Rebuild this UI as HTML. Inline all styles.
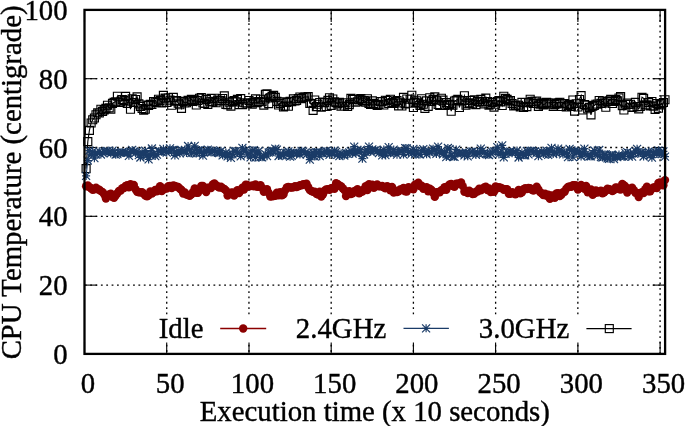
<!DOCTYPE html><html><head><meta charset="utf-8"><style>html,body{margin:0;padding:0;background:#fff}svg{display:block;filter:blur(0.45px)}text{font-family:"Liberation Serif",serif;font-size:28.8px;fill:#000;stroke:#000;stroke-width:0.4px}</style></head><body>
<svg width="685" height="426" viewBox="0 0 685 426">
<rect width="685" height="426" fill="#fff"/>
<g stroke="#000" stroke-width="1.3" stroke-dasharray="1.8 3.56"><line x1="665.10" y1="285.10" x2="84.50" y2="285.10" stroke-dashoffset="0.4"/><line x1="665.10" y1="216.30" x2="84.50" y2="216.30" stroke-dashoffset="0.4"/><line x1="665.10" y1="147.50" x2="84.50" y2="147.50" stroke-dashoffset="0.4"/><line x1="665.10" y1="78.70" x2="84.50" y2="78.70" stroke-dashoffset="0.4"/><line x1="166.73" y1="353.90" x2="166.73" y2="9.90" stroke-dashoffset="3.36"/><line x1="248.95" y1="353.90" x2="248.95" y2="9.90" stroke-dashoffset="3.36"/><line x1="331.18" y1="353.90" x2="331.18" y2="9.90" stroke-dashoffset="3.36"/><line x1="413.40" y1="353.90" x2="413.40" y2="9.90" stroke-dashoffset="3.36"/><line x1="495.62" y1="353.90" x2="495.62" y2="9.90" stroke-dashoffset="3.36"/><line x1="577.85" y1="353.90" x2="577.85" y2="9.90" stroke-dashoffset="3.36"/><line x1="660.08" y1="353.90" x2="660.08" y2="9.90" stroke-dashoffset="0.2"/></g>
<g stroke="#000" stroke-width="1.1"><line x1="84.5" y1="353.9" x2="97.0" y2="353.9"/><line x1="665.1" y1="353.9" x2="652.6" y2="353.9"/><line x1="84.5" y1="285.1" x2="97.0" y2="285.1"/><line x1="665.1" y1="285.1" x2="652.6" y2="285.1"/><line x1="84.5" y1="216.3" x2="97.0" y2="216.3"/><line x1="665.1" y1="216.3" x2="652.6" y2="216.3"/><line x1="84.5" y1="147.5" x2="97.0" y2="147.5"/><line x1="665.1" y1="147.5" x2="652.6" y2="147.5"/><line x1="84.5" y1="78.7" x2="97.0" y2="78.7"/><line x1="665.1" y1="78.7" x2="652.6" y2="78.7"/><line x1="84.5" y1="9.9" x2="97.0" y2="9.9"/><line x1="665.1" y1="9.9" x2="652.6" y2="9.9"/><line x1="84.5" y1="353.9" x2="84.5" y2="341.9"/><line x1="84.5" y1="9.9" x2="84.5" y2="21.9"/><line x1="166.7" y1="353.9" x2="166.7" y2="341.9"/><line x1="166.7" y1="9.9" x2="166.7" y2="21.9"/><line x1="249.0" y1="353.9" x2="249.0" y2="341.9"/><line x1="249.0" y1="9.9" x2="249.0" y2="21.9"/><line x1="331.2" y1="353.9" x2="331.2" y2="341.9"/><line x1="331.2" y1="9.9" x2="331.2" y2="21.9"/><line x1="413.4" y1="353.9" x2="413.4" y2="341.9"/><line x1="413.4" y1="9.9" x2="413.4" y2="21.9"/><line x1="495.6" y1="353.9" x2="495.6" y2="341.9"/><line x1="495.6" y1="9.9" x2="495.6" y2="21.9"/><line x1="577.9" y1="353.9" x2="577.9" y2="341.9"/><line x1="577.9" y1="9.9" x2="577.9" y2="21.9"/><line x1="660.1" y1="353.9" x2="660.1" y2="341.9"/><line x1="660.1" y1="9.9" x2="660.1" y2="21.9"/></g>
<g>
<defs><clipPath id="c"><rect x="84.5" y="9.9" width="580.6" height="344.0"/></clipPath></defs>
<polyline fill="none" stroke="#000" stroke-width="1.1" points="86.1,168.6 87.8,141.6 89.4,130.4 91.1,123.0 92.7,119.7 94.4,118.0 96.0,114.7 97.7,112.9 99.3,113.0 100.9,109.2 102.6,111.4 104.2,109.9 105.9,108.3 107.5,105.2 109.2,107.8 110.8,109.2 112.5,103.4 114.1,102.2 115.7,101.8 117.4,96.2 119.0,102.3 120.7,101.9 122.3,99.5 124.0,100.3 125.6,96.3 127.3,103.3 128.9,101.0 130.5,109.2 132.2,98.8 133.8,102.5 135.5,99.5 137.1,96.8 138.8,103.8 140.4,106.3 142.1,108.5 143.7,110.1 145.3,109.2 147.0,105.0 148.6,105.4 150.3,104.3 151.9,104.5 153.6,101.5 155.2,101.8 156.9,102.3 158.5,99.2 160.1,100.6 161.8,102.9 163.4,95.3 165.1,98.1 166.7,102.3 168.4,97.7 170.0,100.1 171.7,105.2 173.3,97.3 174.9,101.2 176.6,100.6 178.2,103.2 179.9,104.7 181.5,108.4 183.2,101.4 184.8,102.9 186.5,102.7 188.1,100.4 189.7,101.0 191.4,99.2 193.0,101.3 194.7,99.9 196.3,105.0 198.0,100.5 199.6,98.2 201.3,97.5 202.9,103.0 204.5,103.3 206.2,99.4 207.8,104.3 209.5,101.2 211.1,98.3 212.8,101.9 214.4,98.2 216.1,102.7 217.7,100.1 219.3,100.8 221.0,100.6 222.6,98.5 224.3,95.9 225.9,104.4 227.6,104.7 229.2,102.2 230.9,106.1 232.5,101.6 234.1,100.5 235.8,101.9 237.4,99.3 239.1,104.6 240.7,98.6 242.4,104.6 244.0,102.7 245.7,102.9 247.3,103.2 249.0,100.5 250.6,102.9 252.2,104.2 253.9,101.7 255.5,98.9 257.2,102.7 258.8,101.6 260.5,99.2 262.1,101.7 263.8,105.1 265.4,94.4 267.0,93.9 268.7,103.6 270.3,97.8 272.0,96.3 273.6,95.4 275.3,97.3 276.9,101.3 278.6,105.0 280.2,103.4 281.8,101.7 283.5,107.0 285.1,106.1 286.8,102.4 288.4,106.2 290.1,101.3 291.7,101.6 293.4,98.8 295.0,101.0 296.6,100.5 298.3,98.5 299.9,97.0 301.6,98.6 303.2,97.5 304.9,96.8 306.5,97.0 308.2,96.6 309.8,103.3 311.4,103.5 313.1,110.3 314.7,100.0 316.4,106.6 318.0,104.2 319.7,102.5 321.3,107.1 323.0,102.0 324.6,102.6 326.2,106.5 327.9,100.4 329.5,97.7 331.2,105.4 332.8,99.0 334.5,101.8 336.1,102.6 337.8,104.0 339.4,102.2 341.0,106.1 342.7,103.0 344.3,106.0 346.0,102.8 347.6,106.5 349.3,104.6 350.9,98.3 352.6,99.3 354.2,99.5 355.8,102.2 357.5,101.7 359.1,99.8 360.8,98.6 362.4,100.5 364.1,100.6 365.7,102.1 367.4,98.7 369.0,103.5 370.6,104.3 372.3,100.9 373.9,103.4 375.6,104.5 377.2,105.3 378.9,104.2 380.5,101.5 382.2,101.6 383.8,105.0 385.4,100.2 387.1,100.5 388.7,103.5 390.4,99.2 392.0,102.5 393.7,103.4 395.3,101.3 397.0,100.5 398.6,105.9 400.2,102.9 401.9,106.0 403.5,97.3 405.2,104.0 406.8,99.0 408.5,103.2 410.1,99.1 411.8,95.2 413.4,107.5 415.0,102.4 416.7,100.7 418.3,103.1 420.0,105.4 421.6,98.7 423.3,104.2 424.9,108.3 426.6,100.9 428.2,106.3 429.8,97.7 431.5,101.4 433.1,99.4 434.8,96.8 436.4,100.1 438.1,104.5 439.7,105.5 441.4,98.2 443.0,100.1 444.6,105.5 446.3,102.6 447.9,104.5 449.6,104.2 451.2,111.2 452.9,105.2 454.5,101.0 456.2,100.3 457.8,99.2 459.4,107.5 461.1,100.9 462.7,100.5 464.4,95.7 466.0,105.2 467.7,103.7 469.3,102.8 471.0,100.5 472.6,103.8 474.2,99.7 475.9,104.6 477.5,101.3 479.2,102.2 480.8,99.4 482.5,101.2 484.1,103.9 485.8,98.1 487.4,101.6 489.0,105.2 490.7,104.2 492.3,102.3 494.0,107.1 495.6,104.2 497.3,101.6 498.9,100.6 500.6,101.8 502.2,105.5 503.8,96.2 505.5,98.3 507.1,99.3 508.8,100.8 510.4,100.5 512.1,103.5 513.7,105.9 515.4,105.4 517.0,105.1 518.6,105.2 520.3,106.8 521.9,102.3 523.6,107.4 525.2,102.4 526.9,106.6 528.5,102.6 530.2,99.2 531.8,101.4 533.4,103.3 535.1,101.1 536.7,101.0 538.4,106.3 540.0,104.1 541.7,102.8 543.3,105.0 545.0,103.9 546.6,102.3 548.2,102.7 549.9,103.0 551.5,104.2 553.2,106.4 554.8,104.7 556.5,103.8 558.1,102.8 559.8,102.2 561.4,106.5 563.0,103.5 564.7,103.6 566.3,107.0 568.0,105.3 569.6,104.4 571.3,106.3 572.9,100.0 574.6,111.1 576.2,103.7 577.9,107.0 579.5,99.5 581.1,95.6 582.8,110.0 584.4,104.6 586.1,105.2 587.7,108.7 589.4,107.4 591.0,114.9 592.7,106.1 594.3,105.5 595.9,104.2 597.6,104.1 599.2,100.5 600.9,103.3 602.5,101.2 604.2,102.9 605.8,107.2 607.5,101.3 609.1,100.7 610.7,99.3 612.4,103.5 614.0,101.3 615.7,99.6 617.3,100.8 619.0,98.0 620.6,96.6 622.3,105.6 623.9,110.0 625.5,104.2 627.2,103.0 628.8,104.4 630.5,104.2 632.1,107.4 633.8,107.0 635.4,102.3 637.1,106.6 638.7,108.8 640.3,106.5 642.0,97.2 643.6,98.3 645.3,104.8 646.9,104.8 648.6,102.6 650.2,105.9 651.9,101.5 653.5,106.1 655.1,109.4 656.8,103.6 658.4,108.2 660.1,104.8 661.7,103.5 663.4,102.5 665.0,99.7"/>
<path fill="none" stroke="#000" stroke-width="1.15" d="M82.1 164.6h8v8h-8zM83.8 137.6h8v8h-8zM85.4 126.4h8v8h-8zM87.1 119.0h8v8h-8zM88.7 115.7h8v8h-8zM90.4 114.0h8v8h-8zM92.0 110.7h8v8h-8zM93.7 108.9h8v8h-8zM95.3 109.0h8v8h-8zM96.9 105.2h8v8h-8zM98.6 107.4h8v8h-8zM100.2 105.9h8v8h-8zM101.9 104.3h8v8h-8zM103.5 101.2h8v8h-8zM105.2 103.8h8v8h-8zM106.8 105.2h8v8h-8zM108.5 99.4h8v8h-8zM110.1 98.2h8v8h-8zM111.7 97.8h8v8h-8zM113.4 92.2h8v8h-8zM115.0 98.3h8v8h-8zM116.7 97.9h8v8h-8zM118.3 95.5h8v8h-8zM120.0 96.3h8v8h-8zM121.6 92.3h8v8h-8zM123.3 99.3h8v8h-8zM124.9 97.0h8v8h-8zM126.5 105.2h8v8h-8zM128.2 94.8h8v8h-8zM129.8 98.5h8v8h-8zM131.5 95.5h8v8h-8zM133.1 92.8h8v8h-8zM134.8 99.8h8v8h-8zM136.4 102.3h8v8h-8zM138.1 104.5h8v8h-8zM139.7 106.1h8v8h-8zM141.3 105.2h8v8h-8zM143.0 101.0h8v8h-8zM144.6 101.4h8v8h-8zM146.3 100.3h8v8h-8zM147.9 100.5h8v8h-8zM149.6 97.5h8v8h-8zM151.2 97.8h8v8h-8zM152.9 98.3h8v8h-8zM154.5 95.2h8v8h-8zM156.1 96.6h8v8h-8zM157.8 98.9h8v8h-8zM159.4 91.3h8v8h-8zM161.1 94.1h8v8h-8zM162.7 98.3h8v8h-8zM164.4 93.7h8v8h-8zM166.0 96.1h8v8h-8zM167.7 101.2h8v8h-8zM169.3 93.3h8v8h-8zM170.9 97.2h8v8h-8zM172.6 96.6h8v8h-8zM174.2 99.2h8v8h-8zM175.9 100.7h8v8h-8zM177.5 104.4h8v8h-8zM179.2 97.4h8v8h-8zM180.8 98.9h8v8h-8zM182.5 98.7h8v8h-8zM184.1 96.4h8v8h-8zM185.7 97.0h8v8h-8zM187.4 95.2h8v8h-8zM189.0 97.3h8v8h-8zM190.7 95.9h8v8h-8zM192.3 101.0h8v8h-8zM194.0 96.5h8v8h-8zM195.6 94.2h8v8h-8zM197.3 93.5h8v8h-8zM198.9 99.0h8v8h-8zM200.5 99.3h8v8h-8zM202.2 95.4h8v8h-8zM203.8 100.3h8v8h-8zM205.5 97.2h8v8h-8zM207.1 94.3h8v8h-8zM208.8 97.9h8v8h-8zM210.4 94.2h8v8h-8zM212.1 98.7h8v8h-8zM213.7 96.1h8v8h-8zM215.3 96.8h8v8h-8zM217.0 96.6h8v8h-8zM218.6 94.5h8v8h-8zM220.3 91.9h8v8h-8zM221.9 100.4h8v8h-8zM223.6 100.7h8v8h-8zM225.2 98.2h8v8h-8zM226.9 102.1h8v8h-8zM228.5 97.6h8v8h-8zM230.1 96.5h8v8h-8zM231.8 97.9h8v8h-8zM233.4 95.3h8v8h-8zM235.1 100.6h8v8h-8zM236.7 94.6h8v8h-8zM238.4 100.6h8v8h-8zM240.0 98.7h8v8h-8zM241.7 98.9h8v8h-8zM243.3 99.2h8v8h-8zM245.0 96.5h8v8h-8zM246.6 98.9h8v8h-8zM248.2 100.2h8v8h-8zM249.9 97.7h8v8h-8zM251.5 94.9h8v8h-8zM253.2 98.7h8v8h-8zM254.8 97.6h8v8h-8zM256.5 95.2h8v8h-8zM258.1 97.7h8v8h-8zM259.8 101.1h8v8h-8zM261.4 90.4h8v8h-8zM263.0 89.9h8v8h-8zM264.7 99.6h8v8h-8zM266.3 93.8h8v8h-8zM268.0 92.3h8v8h-8zM269.6 91.4h8v8h-8zM271.3 93.3h8v8h-8zM272.9 97.3h8v8h-8zM274.6 101.0h8v8h-8zM276.2 99.4h8v8h-8zM277.8 97.7h8v8h-8zM279.5 103.0h8v8h-8zM281.1 102.1h8v8h-8zM282.8 98.4h8v8h-8zM284.4 102.2h8v8h-8zM286.1 97.3h8v8h-8zM287.7 97.6h8v8h-8zM289.4 94.8h8v8h-8zM291.0 97.0h8v8h-8zM292.6 96.5h8v8h-8zM294.3 94.5h8v8h-8zM295.9 93.0h8v8h-8zM297.6 94.6h8v8h-8zM299.2 93.5h8v8h-8zM300.9 92.8h8v8h-8zM302.5 93.0h8v8h-8zM304.2 92.6h8v8h-8zM305.8 99.3h8v8h-8zM307.4 99.5h8v8h-8zM309.1 106.3h8v8h-8zM310.7 96.0h8v8h-8zM312.4 102.6h8v8h-8zM314.0 100.2h8v8h-8zM315.7 98.5h8v8h-8zM317.3 103.1h8v8h-8zM319.0 98.0h8v8h-8zM320.6 98.6h8v8h-8zM322.2 102.5h8v8h-8zM323.9 96.4h8v8h-8zM325.5 93.7h8v8h-8zM327.2 101.4h8v8h-8zM328.8 95.0h8v8h-8zM330.5 97.8h8v8h-8zM332.1 98.6h8v8h-8zM333.8 100.0h8v8h-8zM335.4 98.2h8v8h-8zM337.0 102.1h8v8h-8zM338.7 99.0h8v8h-8zM340.3 102.0h8v8h-8zM342.0 98.8h8v8h-8zM343.6 102.5h8v8h-8zM345.3 100.6h8v8h-8zM346.9 94.3h8v8h-8zM348.6 95.3h8v8h-8zM350.2 95.5h8v8h-8zM351.8 98.2h8v8h-8zM353.5 97.7h8v8h-8zM355.1 95.8h8v8h-8zM356.8 94.6h8v8h-8zM358.4 96.5h8v8h-8zM360.1 96.6h8v8h-8zM361.7 98.1h8v8h-8zM363.4 94.7h8v8h-8zM365.0 99.5h8v8h-8zM366.6 100.3h8v8h-8zM368.3 96.9h8v8h-8zM369.9 99.4h8v8h-8zM371.6 100.5h8v8h-8zM373.2 101.3h8v8h-8zM374.9 100.2h8v8h-8zM376.5 97.5h8v8h-8zM378.2 97.6h8v8h-8zM379.8 101.0h8v8h-8zM381.4 96.2h8v8h-8zM383.1 96.5h8v8h-8zM384.7 99.5h8v8h-8zM386.4 95.2h8v8h-8zM388.0 98.5h8v8h-8zM389.7 99.4h8v8h-8zM391.3 97.3h8v8h-8zM393.0 96.5h8v8h-8zM394.6 101.9h8v8h-8zM396.2 98.9h8v8h-8zM397.9 102.0h8v8h-8zM399.5 93.3h8v8h-8zM401.2 100.0h8v8h-8zM402.8 95.0h8v8h-8zM404.5 99.2h8v8h-8zM406.1 95.1h8v8h-8zM407.8 91.2h8v8h-8zM409.4 103.5h8v8h-8zM411.0 98.4h8v8h-8zM412.7 96.7h8v8h-8zM414.3 99.1h8v8h-8zM416.0 101.4h8v8h-8zM417.6 94.7h8v8h-8zM419.3 100.2h8v8h-8zM420.9 104.3h8v8h-8zM422.6 96.9h8v8h-8zM424.2 102.3h8v8h-8zM425.8 93.7h8v8h-8zM427.5 97.4h8v8h-8zM429.1 95.4h8v8h-8zM430.8 92.8h8v8h-8zM432.4 96.1h8v8h-8zM434.1 100.5h8v8h-8zM435.7 101.5h8v8h-8zM437.4 94.2h8v8h-8zM439.0 96.1h8v8h-8zM440.6 101.5h8v8h-8zM442.3 98.6h8v8h-8zM443.9 100.5h8v8h-8zM445.6 100.2h8v8h-8zM447.2 107.2h8v8h-8zM448.9 101.2h8v8h-8zM450.5 97.0h8v8h-8zM452.2 96.3h8v8h-8zM453.8 95.2h8v8h-8zM455.4 103.5h8v8h-8zM457.1 96.9h8v8h-8zM458.7 96.5h8v8h-8zM460.4 91.7h8v8h-8zM462.0 101.2h8v8h-8zM463.7 99.7h8v8h-8zM465.3 98.8h8v8h-8zM467.0 96.5h8v8h-8zM468.6 99.8h8v8h-8zM470.2 95.7h8v8h-8zM471.9 100.6h8v8h-8zM473.5 97.3h8v8h-8zM475.2 98.2h8v8h-8zM476.8 95.4h8v8h-8zM478.5 97.2h8v8h-8zM480.1 99.9h8v8h-8zM481.8 94.1h8v8h-8zM483.4 97.6h8v8h-8zM485.0 101.2h8v8h-8zM486.7 100.2h8v8h-8zM488.3 98.3h8v8h-8zM490.0 103.1h8v8h-8zM491.6 100.2h8v8h-8zM493.3 97.6h8v8h-8zM494.9 96.6h8v8h-8zM496.6 97.8h8v8h-8zM498.2 101.5h8v8h-8zM499.8 92.2h8v8h-8zM501.5 94.3h8v8h-8zM503.1 95.3h8v8h-8zM504.8 96.8h8v8h-8zM506.4 96.5h8v8h-8zM508.1 99.5h8v8h-8zM509.7 101.9h8v8h-8zM511.4 101.4h8v8h-8zM513.0 101.1h8v8h-8zM514.6 101.2h8v8h-8zM516.3 102.8h8v8h-8zM517.9 98.3h8v8h-8zM519.6 103.4h8v8h-8zM521.2 98.4h8v8h-8zM522.9 102.6h8v8h-8zM524.5 98.6h8v8h-8zM526.2 95.2h8v8h-8zM527.8 97.4h8v8h-8zM529.4 99.3h8v8h-8zM531.1 97.1h8v8h-8zM532.7 97.0h8v8h-8zM534.4 102.3h8v8h-8zM536.0 100.1h8v8h-8zM537.7 98.8h8v8h-8zM539.3 101.0h8v8h-8zM541.0 99.9h8v8h-8zM542.6 98.3h8v8h-8zM544.2 98.7h8v8h-8zM545.9 99.0h8v8h-8zM547.5 100.2h8v8h-8zM549.2 102.4h8v8h-8zM550.8 100.7h8v8h-8zM552.5 99.8h8v8h-8zM554.1 98.8h8v8h-8zM555.8 98.2h8v8h-8zM557.4 102.5h8v8h-8zM559.0 99.5h8v8h-8zM560.7 99.6h8v8h-8zM562.3 103.0h8v8h-8zM564.0 101.3h8v8h-8zM565.6 100.4h8v8h-8zM567.3 102.3h8v8h-8zM568.9 96.0h8v8h-8zM570.6 107.1h8v8h-8zM572.2 99.7h8v8h-8zM573.9 103.0h8v8h-8zM575.5 95.5h8v8h-8zM577.1 91.6h8v8h-8zM578.8 106.0h8v8h-8zM580.4 100.6h8v8h-8zM582.1 101.2h8v8h-8zM583.7 104.7h8v8h-8zM585.4 103.4h8v8h-8zM587.0 110.9h8v8h-8zM588.7 102.1h8v8h-8zM590.3 101.5h8v8h-8zM591.9 100.2h8v8h-8zM593.6 100.1h8v8h-8zM595.2 96.5h8v8h-8zM596.9 99.3h8v8h-8zM598.5 97.2h8v8h-8zM600.2 98.9h8v8h-8zM601.8 103.2h8v8h-8zM603.5 97.3h8v8h-8zM605.1 96.7h8v8h-8zM606.7 95.3h8v8h-8zM608.4 99.5h8v8h-8zM610.0 97.3h8v8h-8zM611.7 95.6h8v8h-8zM613.3 96.8h8v8h-8zM615.0 94.0h8v8h-8zM616.6 92.6h8v8h-8zM618.3 101.6h8v8h-8zM619.9 106.0h8v8h-8zM621.5 100.2h8v8h-8zM623.2 99.0h8v8h-8zM624.8 100.4h8v8h-8zM626.5 100.2h8v8h-8zM628.1 103.4h8v8h-8zM629.8 103.0h8v8h-8zM631.4 98.3h8v8h-8zM633.1 102.6h8v8h-8zM634.7 104.8h8v8h-8zM636.3 102.5h8v8h-8zM638.0 93.2h8v8h-8zM639.6 94.3h8v8h-8zM641.3 100.8h8v8h-8zM642.9 100.8h8v8h-8zM644.6 98.6h8v8h-8zM646.2 101.9h8v8h-8zM647.9 97.5h8v8h-8zM649.5 102.1h8v8h-8zM651.1 105.4h8v8h-8zM652.8 99.6h8v8h-8zM654.4 104.2h8v8h-8zM656.1 100.8h8v8h-8zM657.7 99.5h8v8h-8zM659.4 98.5h8v8h-8zM661.0 95.7h8v8h-8z"/>
<polyline fill="none" stroke="#1a3b67" stroke-width="1.1" points="86.1,175.9 87.8,160.5 89.4,150.5 91.1,154.8 92.7,151.9 94.4,158.2 96.0,154.5 97.7,152.8 99.3,151.3 100.9,154.5 102.6,152.9 104.2,151.4 105.9,151.6 107.5,151.0 109.2,152.1 110.8,153.4 112.5,150.6 114.1,152.5 115.7,154.7 117.4,154.2 119.0,152.6 120.7,152.9 122.3,152.2 124.0,152.6 125.6,152.1 127.3,152.9 128.9,155.8 130.5,151.5 132.2,149.9 133.8,151.5 135.5,153.1 137.1,151.4 138.8,155.1 140.4,157.5 142.1,152.4 143.7,155.0 145.3,150.7 147.0,155.4 148.6,159.4 150.3,155.3 151.9,148.5 153.6,153.6 155.2,156.1 156.9,154.6 158.5,151.3 160.1,151.3 161.8,152.1 163.4,148.8 165.1,150.8 166.7,152.7 168.4,151.1 170.0,148.3 171.7,150.1 173.3,150.0 174.9,155.4 176.6,153.0 178.2,150.7 179.9,153.4 181.5,149.8 183.2,151.1 184.8,150.3 186.5,153.1 188.1,146.0 189.7,149.4 191.4,153.2 193.0,152.4 194.7,145.9 196.3,153.5 198.0,150.3 199.6,150.1 201.3,152.6 202.9,155.6 204.5,152.1 206.2,151.7 207.8,149.7 209.5,150.6 211.1,152.5 212.8,150.4 214.4,151.2 216.1,152.1 217.7,152.5 219.3,153.2 221.0,150.8 222.6,155.3 224.3,154.2 225.9,152.6 227.6,156.4 229.2,153.7 230.9,157.8 232.5,154.4 234.1,151.1 235.8,151.1 237.4,152.7 239.1,153.2 240.7,156.3 242.4,147.9 244.0,151.3 245.7,149.8 247.3,154.9 249.0,153.1 250.6,157.3 252.2,150.6 253.9,150.2 255.5,157.5 257.2,152.7 258.8,151.0 260.5,157.1 262.1,157.3 263.8,155.3 265.4,154.2 267.0,156.2 268.7,152.5 270.3,152.0 272.0,151.0 273.6,150.8 275.3,148.7 276.9,149.6 278.6,156.0 280.2,153.9 281.8,155.3 283.5,155.4 285.1,152.8 286.8,152.6 288.4,151.3 290.1,156.7 291.7,155.8 293.4,152.7 295.0,153.1 296.6,153.4 298.3,152.8 299.9,154.6 301.6,150.8 303.2,151.7 304.9,152.8 306.5,154.3 308.2,153.0 309.8,159.6 311.4,155.1 313.1,152.5 314.7,156.5 316.4,152.1 318.0,152.2 319.7,156.2 321.3,153.2 323.0,153.4 324.6,151.4 326.2,151.0 327.9,152.7 329.5,154.8 331.2,153.0 332.8,152.8 334.5,150.7 336.1,151.8 337.8,154.5 339.4,156.1 341.0,153.6 342.7,154.5 344.3,155.5 346.0,152.9 347.6,153.9 349.3,152.3 350.9,151.2 352.6,153.7 354.2,146.6 355.8,153.4 357.5,149.8 359.1,152.3 360.8,149.7 362.4,158.7 364.1,154.5 365.7,152.0 367.4,151.0 369.0,146.6 370.6,151.8 372.3,149.3 373.9,150.6 375.6,150.2 377.2,151.3 378.9,153.0 380.5,151.3 382.2,155.4 383.8,149.6 385.4,155.2 387.1,152.0 388.7,147.1 390.4,153.2 392.0,152.5 393.7,149.6 395.3,152.5 397.0,154.7 398.6,151.9 400.2,151.1 401.9,150.8 403.5,154.6 405.2,148.1 406.8,148.3 408.5,152.6 410.1,151.9 411.8,153.7 413.4,149.0 415.0,154.4 416.7,150.9 418.3,153.8 420.0,154.4 421.6,150.7 423.3,149.2 424.9,152.6 426.6,154.3 428.2,150.5 429.8,152.7 431.5,151.8 433.1,148.7 434.8,149.7 436.4,153.9 438.1,146.7 439.7,152.6 441.4,150.6 443.0,154.3 444.6,152.7 446.3,157.1 447.9,148.0 449.6,149.1 451.2,155.7 452.9,156.5 454.5,156.8 456.2,149.6 457.8,153.8 459.4,152.8 461.1,153.4 462.7,152.9 464.4,155.4 466.0,152.5 467.7,156.3 469.3,152.8 471.0,151.8 472.6,151.4 474.2,153.2 475.9,154.9 477.5,152.2 479.2,153.9 480.8,148.6 482.5,150.6 484.1,152.9 485.8,153.8 487.4,154.4 489.0,155.0 490.7,153.5 492.3,151.8 494.0,151.3 495.6,151.1 497.3,147.2 498.9,154.4 500.6,152.6 502.2,145.4 503.8,157.4 505.5,153.9 507.1,152.2 508.8,152.2 510.4,151.5 512.1,153.2 513.7,151.7 515.4,152.5 517.0,150.6 518.6,157.5 520.3,154.9 521.9,152.6 523.6,155.3 525.2,155.3 526.9,151.0 528.5,154.3 530.2,151.0 531.8,150.7 533.4,151.8 535.1,151.3 536.7,152.9 538.4,156.2 540.0,152.7 541.7,151.4 543.3,154.0 545.0,152.9 546.6,150.7 548.2,154.9 549.9,150.9 551.5,147.8 553.2,154.0 554.8,152.2 556.5,153.0 558.1,148.6 559.8,151.8 561.4,150.3 563.0,154.4 564.7,152.6 566.3,152.6 568.0,157.2 569.6,148.9 571.3,150.3 572.9,157.1 574.6,150.7 576.2,152.9 577.9,151.4 579.5,151.7 581.1,156.5 582.8,153.1 584.4,148.7 586.1,154.1 587.7,155.2 589.4,156.3 591.0,156.4 592.7,153.2 594.3,150.5 595.9,154.4 597.6,155.2 599.2,150.0 600.9,157.1 602.5,157.5 604.2,154.4 605.8,154.4 607.5,158.4 609.1,158.8 610.7,155.0 612.4,155.2 614.0,159.2 615.7,156.3 617.3,157.2 619.0,154.6 620.6,156.1 622.3,156.0 623.9,156.7 625.5,153.1 627.2,152.2 628.8,156.7 630.5,153.2 632.1,156.6 633.8,153.6 635.4,151.2 637.1,148.8 638.7,153.6 640.3,152.8 642.0,152.1 643.6,156.5 645.3,152.6 646.9,154.3 648.6,151.6 650.2,155.5 651.9,157.7 653.5,152.5 655.1,151.9 656.8,154.0 658.4,150.3 660.1,153.3 661.7,154.2 663.4,151.4 665.0,156.6"/>
<path fill="none" stroke="#1a3b67" stroke-width="1.2" d="M82.1 175.9h8.0M86.1 171.9v8.0M82.1 171.9l8.0 8.0M82.1 179.9l8.0 -8.0M83.8 160.5h8.0M87.8 156.5v8.0M83.8 156.5l8.0 8.0M83.8 164.5l8.0 -8.0M85.4 150.5h8.0M89.4 146.5v8.0M85.4 146.5l8.0 8.0M85.4 154.5l8.0 -8.0M87.1 154.8h8.0M91.1 150.8v8.0M87.1 150.8l8.0 8.0M87.1 158.8l8.0 -8.0M88.7 151.9h8.0M92.7 147.9v8.0M88.7 147.9l8.0 8.0M88.7 155.9l8.0 -8.0M90.4 158.2h8.0M94.4 154.2v8.0M90.4 154.2l8.0 8.0M90.4 162.2l8.0 -8.0M92.0 154.5h8.0M96.0 150.5v8.0M92.0 150.5l8.0 8.0M92.0 158.5l8.0 -8.0M93.7 152.8h8.0M97.7 148.8v8.0M93.7 148.8l8.0 8.0M93.7 156.8l8.0 -8.0M95.3 151.3h8.0M99.3 147.3v8.0M95.3 147.3l8.0 8.0M95.3 155.3l8.0 -8.0M96.9 154.5h8.0M100.9 150.5v8.0M96.9 150.5l8.0 8.0M96.9 158.5l8.0 -8.0M98.6 152.9h8.0M102.6 148.9v8.0M98.6 148.9l8.0 8.0M98.6 156.9l8.0 -8.0M100.2 151.4h8.0M104.2 147.4v8.0M100.2 147.4l8.0 8.0M100.2 155.4l8.0 -8.0M101.9 151.6h8.0M105.9 147.6v8.0M101.9 147.6l8.0 8.0M101.9 155.6l8.0 -8.0M103.5 151.0h8.0M107.5 147.0v8.0M103.5 147.0l8.0 8.0M103.5 155.0l8.0 -8.0M105.2 152.1h8.0M109.2 148.1v8.0M105.2 148.1l8.0 8.0M105.2 156.1l8.0 -8.0M106.8 153.4h8.0M110.8 149.4v8.0M106.8 149.4l8.0 8.0M106.8 157.4l8.0 -8.0M108.5 150.6h8.0M112.5 146.6v8.0M108.5 146.6l8.0 8.0M108.5 154.6l8.0 -8.0M110.1 152.5h8.0M114.1 148.5v8.0M110.1 148.5l8.0 8.0M110.1 156.5l8.0 -8.0M111.7 154.7h8.0M115.7 150.7v8.0M111.7 150.7l8.0 8.0M111.7 158.7l8.0 -8.0M113.4 154.2h8.0M117.4 150.2v8.0M113.4 150.2l8.0 8.0M113.4 158.2l8.0 -8.0M115.0 152.6h8.0M119.0 148.6v8.0M115.0 148.6l8.0 8.0M115.0 156.6l8.0 -8.0M116.7 152.9h8.0M120.7 148.9v8.0M116.7 148.9l8.0 8.0M116.7 156.9l8.0 -8.0M118.3 152.2h8.0M122.3 148.2v8.0M118.3 148.2l8.0 8.0M118.3 156.2l8.0 -8.0M120.0 152.6h8.0M124.0 148.6v8.0M120.0 148.6l8.0 8.0M120.0 156.6l8.0 -8.0M121.6 152.1h8.0M125.6 148.1v8.0M121.6 148.1l8.0 8.0M121.6 156.1l8.0 -8.0M123.3 152.9h8.0M127.3 148.9v8.0M123.3 148.9l8.0 8.0M123.3 156.9l8.0 -8.0M124.9 155.8h8.0M128.9 151.8v8.0M124.9 151.8l8.0 8.0M124.9 159.8l8.0 -8.0M126.5 151.5h8.0M130.5 147.5v8.0M126.5 147.5l8.0 8.0M126.5 155.5l8.0 -8.0M128.2 149.9h8.0M132.2 145.9v8.0M128.2 145.9l8.0 8.0M128.2 153.9l8.0 -8.0M129.8 151.5h8.0M133.8 147.5v8.0M129.8 147.5l8.0 8.0M129.8 155.5l8.0 -8.0M131.5 153.1h8.0M135.5 149.1v8.0M131.5 149.1l8.0 8.0M131.5 157.1l8.0 -8.0M133.1 151.4h8.0M137.1 147.4v8.0M133.1 147.4l8.0 8.0M133.1 155.4l8.0 -8.0M134.8 155.1h8.0M138.8 151.1v8.0M134.8 151.1l8.0 8.0M134.8 159.1l8.0 -8.0M136.4 157.5h8.0M140.4 153.5v8.0M136.4 153.5l8.0 8.0M136.4 161.5l8.0 -8.0M138.1 152.4h8.0M142.1 148.4v8.0M138.1 148.4l8.0 8.0M138.1 156.4l8.0 -8.0M139.7 155.0h8.0M143.7 151.0v8.0M139.7 151.0l8.0 8.0M139.7 159.0l8.0 -8.0M141.3 150.7h8.0M145.3 146.7v8.0M141.3 146.7l8.0 8.0M141.3 154.7l8.0 -8.0M143.0 155.4h8.0M147.0 151.4v8.0M143.0 151.4l8.0 8.0M143.0 159.4l8.0 -8.0M144.6 159.4h8.0M148.6 155.4v8.0M144.6 155.4l8.0 8.0M144.6 163.4l8.0 -8.0M146.3 155.3h8.0M150.3 151.3v8.0M146.3 151.3l8.0 8.0M146.3 159.3l8.0 -8.0M147.9 148.5h8.0M151.9 144.5v8.0M147.9 144.5l8.0 8.0M147.9 152.5l8.0 -8.0M149.6 153.6h8.0M153.6 149.6v8.0M149.6 149.6l8.0 8.0M149.6 157.6l8.0 -8.0M151.2 156.1h8.0M155.2 152.1v8.0M151.2 152.1l8.0 8.0M151.2 160.1l8.0 -8.0M152.9 154.6h8.0M156.9 150.6v8.0M152.9 150.6l8.0 8.0M152.9 158.6l8.0 -8.0M154.5 151.3h8.0M158.5 147.3v8.0M154.5 147.3l8.0 8.0M154.5 155.3l8.0 -8.0M156.1 151.3h8.0M160.1 147.3v8.0M156.1 147.3l8.0 8.0M156.1 155.3l8.0 -8.0M157.8 152.1h8.0M161.8 148.1v8.0M157.8 148.1l8.0 8.0M157.8 156.1l8.0 -8.0M159.4 148.8h8.0M163.4 144.8v8.0M159.4 144.8l8.0 8.0M159.4 152.8l8.0 -8.0M161.1 150.8h8.0M165.1 146.8v8.0M161.1 146.8l8.0 8.0M161.1 154.8l8.0 -8.0M162.7 152.7h8.0M166.7 148.7v8.0M162.7 148.7l8.0 8.0M162.7 156.7l8.0 -8.0M164.4 151.1h8.0M168.4 147.1v8.0M164.4 147.1l8.0 8.0M164.4 155.1l8.0 -8.0M166.0 148.3h8.0M170.0 144.3v8.0M166.0 144.3l8.0 8.0M166.0 152.3l8.0 -8.0M167.7 150.1h8.0M171.7 146.1v8.0M167.7 146.1l8.0 8.0M167.7 154.1l8.0 -8.0M169.3 150.0h8.0M173.3 146.0v8.0M169.3 146.0l8.0 8.0M169.3 154.0l8.0 -8.0M170.9 155.4h8.0M174.9 151.4v8.0M170.9 151.4l8.0 8.0M170.9 159.4l8.0 -8.0M172.6 153.0h8.0M176.6 149.0v8.0M172.6 149.0l8.0 8.0M172.6 157.0l8.0 -8.0M174.2 150.7h8.0M178.2 146.7v8.0M174.2 146.7l8.0 8.0M174.2 154.7l8.0 -8.0M175.9 153.4h8.0M179.9 149.4v8.0M175.9 149.4l8.0 8.0M175.9 157.4l8.0 -8.0M177.5 149.8h8.0M181.5 145.8v8.0M177.5 145.8l8.0 8.0M177.5 153.8l8.0 -8.0M179.2 151.1h8.0M183.2 147.1v8.0M179.2 147.1l8.0 8.0M179.2 155.1l8.0 -8.0M180.8 150.3h8.0M184.8 146.3v8.0M180.8 146.3l8.0 8.0M180.8 154.3l8.0 -8.0M182.5 153.1h8.0M186.5 149.1v8.0M182.5 149.1l8.0 8.0M182.5 157.1l8.0 -8.0M184.1 146.0h8.0M188.1 142.0v8.0M184.1 142.0l8.0 8.0M184.1 150.0l8.0 -8.0M185.7 149.4h8.0M189.7 145.4v8.0M185.7 145.4l8.0 8.0M185.7 153.4l8.0 -8.0M187.4 153.2h8.0M191.4 149.2v8.0M187.4 149.2l8.0 8.0M187.4 157.2l8.0 -8.0M189.0 152.4h8.0M193.0 148.4v8.0M189.0 148.4l8.0 8.0M189.0 156.4l8.0 -8.0M190.7 145.9h8.0M194.7 141.9v8.0M190.7 141.9l8.0 8.0M190.7 149.9l8.0 -8.0M192.3 153.5h8.0M196.3 149.5v8.0M192.3 149.5l8.0 8.0M192.3 157.5l8.0 -8.0M194.0 150.3h8.0M198.0 146.3v8.0M194.0 146.3l8.0 8.0M194.0 154.3l8.0 -8.0M195.6 150.1h8.0M199.6 146.1v8.0M195.6 146.1l8.0 8.0M195.6 154.1l8.0 -8.0M197.3 152.6h8.0M201.3 148.6v8.0M197.3 148.6l8.0 8.0M197.3 156.6l8.0 -8.0M198.9 155.6h8.0M202.9 151.6v8.0M198.9 151.6l8.0 8.0M198.9 159.6l8.0 -8.0M200.5 152.1h8.0M204.5 148.1v8.0M200.5 148.1l8.0 8.0M200.5 156.1l8.0 -8.0M202.2 151.7h8.0M206.2 147.7v8.0M202.2 147.7l8.0 8.0M202.2 155.7l8.0 -8.0M203.8 149.7h8.0M207.8 145.7v8.0M203.8 145.7l8.0 8.0M203.8 153.7l8.0 -8.0M205.5 150.6h8.0M209.5 146.6v8.0M205.5 146.6l8.0 8.0M205.5 154.6l8.0 -8.0M207.1 152.5h8.0M211.1 148.5v8.0M207.1 148.5l8.0 8.0M207.1 156.5l8.0 -8.0M208.8 150.4h8.0M212.8 146.4v8.0M208.8 146.4l8.0 8.0M208.8 154.4l8.0 -8.0M210.4 151.2h8.0M214.4 147.2v8.0M210.4 147.2l8.0 8.0M210.4 155.2l8.0 -8.0M212.1 152.1h8.0M216.1 148.1v8.0M212.1 148.1l8.0 8.0M212.1 156.1l8.0 -8.0M213.7 152.5h8.0M217.7 148.5v8.0M213.7 148.5l8.0 8.0M213.7 156.5l8.0 -8.0M215.3 153.2h8.0M219.3 149.2v8.0M215.3 149.2l8.0 8.0M215.3 157.2l8.0 -8.0M217.0 150.8h8.0M221.0 146.8v8.0M217.0 146.8l8.0 8.0M217.0 154.8l8.0 -8.0M218.6 155.3h8.0M222.6 151.3v8.0M218.6 151.3l8.0 8.0M218.6 159.3l8.0 -8.0M220.3 154.2h8.0M224.3 150.2v8.0M220.3 150.2l8.0 8.0M220.3 158.2l8.0 -8.0M221.9 152.6h8.0M225.9 148.6v8.0M221.9 148.6l8.0 8.0M221.9 156.6l8.0 -8.0M223.6 156.4h8.0M227.6 152.4v8.0M223.6 152.4l8.0 8.0M223.6 160.4l8.0 -8.0M225.2 153.7h8.0M229.2 149.7v8.0M225.2 149.7l8.0 8.0M225.2 157.7l8.0 -8.0M226.9 157.8h8.0M230.9 153.8v8.0M226.9 153.8l8.0 8.0M226.9 161.8l8.0 -8.0M228.5 154.4h8.0M232.5 150.4v8.0M228.5 150.4l8.0 8.0M228.5 158.4l8.0 -8.0M230.1 151.1h8.0M234.1 147.1v8.0M230.1 147.1l8.0 8.0M230.1 155.1l8.0 -8.0M231.8 151.1h8.0M235.8 147.1v8.0M231.8 147.1l8.0 8.0M231.8 155.1l8.0 -8.0M233.4 152.7h8.0M237.4 148.7v8.0M233.4 148.7l8.0 8.0M233.4 156.7l8.0 -8.0M235.1 153.2h8.0M239.1 149.2v8.0M235.1 149.2l8.0 8.0M235.1 157.2l8.0 -8.0M236.7 156.3h8.0M240.7 152.3v8.0M236.7 152.3l8.0 8.0M236.7 160.3l8.0 -8.0M238.4 147.9h8.0M242.4 143.9v8.0M238.4 143.9l8.0 8.0M238.4 151.9l8.0 -8.0M240.0 151.3h8.0M244.0 147.3v8.0M240.0 147.3l8.0 8.0M240.0 155.3l8.0 -8.0M241.7 149.8h8.0M245.7 145.8v8.0M241.7 145.8l8.0 8.0M241.7 153.8l8.0 -8.0M243.3 154.9h8.0M247.3 150.9v8.0M243.3 150.9l8.0 8.0M243.3 158.9l8.0 -8.0M245.0 153.1h8.0M249.0 149.1v8.0M245.0 149.1l8.0 8.0M245.0 157.1l8.0 -8.0M246.6 157.3h8.0M250.6 153.3v8.0M246.6 153.3l8.0 8.0M246.6 161.3l8.0 -8.0M248.2 150.6h8.0M252.2 146.6v8.0M248.2 146.6l8.0 8.0M248.2 154.6l8.0 -8.0M249.9 150.2h8.0M253.9 146.2v8.0M249.9 146.2l8.0 8.0M249.9 154.2l8.0 -8.0M251.5 157.5h8.0M255.5 153.5v8.0M251.5 153.5l8.0 8.0M251.5 161.5l8.0 -8.0M253.2 152.7h8.0M257.2 148.7v8.0M253.2 148.7l8.0 8.0M253.2 156.7l8.0 -8.0M254.8 151.0h8.0M258.8 147.0v8.0M254.8 147.0l8.0 8.0M254.8 155.0l8.0 -8.0M256.5 157.1h8.0M260.5 153.1v8.0M256.5 153.1l8.0 8.0M256.5 161.1l8.0 -8.0M258.1 157.3h8.0M262.1 153.3v8.0M258.1 153.3l8.0 8.0M258.1 161.3l8.0 -8.0M259.8 155.3h8.0M263.8 151.3v8.0M259.8 151.3l8.0 8.0M259.8 159.3l8.0 -8.0M261.4 154.2h8.0M265.4 150.2v8.0M261.4 150.2l8.0 8.0M261.4 158.2l8.0 -8.0M263.0 156.2h8.0M267.0 152.2v8.0M263.0 152.2l8.0 8.0M263.0 160.2l8.0 -8.0M264.7 152.5h8.0M268.7 148.5v8.0M264.7 148.5l8.0 8.0M264.7 156.5l8.0 -8.0M266.3 152.0h8.0M270.3 148.0v8.0M266.3 148.0l8.0 8.0M266.3 156.0l8.0 -8.0M268.0 151.0h8.0M272.0 147.0v8.0M268.0 147.0l8.0 8.0M268.0 155.0l8.0 -8.0M269.6 150.8h8.0M273.6 146.8v8.0M269.6 146.8l8.0 8.0M269.6 154.8l8.0 -8.0M271.3 148.7h8.0M275.3 144.7v8.0M271.3 144.7l8.0 8.0M271.3 152.7l8.0 -8.0M272.9 149.6h8.0M276.9 145.6v8.0M272.9 145.6l8.0 8.0M272.9 153.6l8.0 -8.0M274.6 156.0h8.0M278.6 152.0v8.0M274.6 152.0l8.0 8.0M274.6 160.0l8.0 -8.0M276.2 153.9h8.0M280.2 149.9v8.0M276.2 149.9l8.0 8.0M276.2 157.9l8.0 -8.0M277.8 155.3h8.0M281.8 151.3v8.0M277.8 151.3l8.0 8.0M277.8 159.3l8.0 -8.0M279.5 155.4h8.0M283.5 151.4v8.0M279.5 151.4l8.0 8.0M279.5 159.4l8.0 -8.0M281.1 152.8h8.0M285.1 148.8v8.0M281.1 148.8l8.0 8.0M281.1 156.8l8.0 -8.0M282.8 152.6h8.0M286.8 148.6v8.0M282.8 148.6l8.0 8.0M282.8 156.6l8.0 -8.0M284.4 151.3h8.0M288.4 147.3v8.0M284.4 147.3l8.0 8.0M284.4 155.3l8.0 -8.0M286.1 156.7h8.0M290.1 152.7v8.0M286.1 152.7l8.0 8.0M286.1 160.7l8.0 -8.0M287.7 155.8h8.0M291.7 151.8v8.0M287.7 151.8l8.0 8.0M287.7 159.8l8.0 -8.0M289.4 152.7h8.0M293.4 148.7v8.0M289.4 148.7l8.0 8.0M289.4 156.7l8.0 -8.0M291.0 153.1h8.0M295.0 149.1v8.0M291.0 149.1l8.0 8.0M291.0 157.1l8.0 -8.0M292.6 153.4h8.0M296.6 149.4v8.0M292.6 149.4l8.0 8.0M292.6 157.4l8.0 -8.0M294.3 152.8h8.0M298.3 148.8v8.0M294.3 148.8l8.0 8.0M294.3 156.8l8.0 -8.0M295.9 154.6h8.0M299.9 150.6v8.0M295.9 150.6l8.0 8.0M295.9 158.6l8.0 -8.0M297.6 150.8h8.0M301.6 146.8v8.0M297.6 146.8l8.0 8.0M297.6 154.8l8.0 -8.0M299.2 151.7h8.0M303.2 147.7v8.0M299.2 147.7l8.0 8.0M299.2 155.7l8.0 -8.0M300.9 152.8h8.0M304.9 148.8v8.0M300.9 148.8l8.0 8.0M300.9 156.8l8.0 -8.0M302.5 154.3h8.0M306.5 150.3v8.0M302.5 150.3l8.0 8.0M302.5 158.3l8.0 -8.0M304.2 153.0h8.0M308.2 149.0v8.0M304.2 149.0l8.0 8.0M304.2 157.0l8.0 -8.0M305.8 159.6h8.0M309.8 155.6v8.0M305.8 155.6l8.0 8.0M305.8 163.6l8.0 -8.0M307.4 155.1h8.0M311.4 151.1v8.0M307.4 151.1l8.0 8.0M307.4 159.1l8.0 -8.0M309.1 152.5h8.0M313.1 148.5v8.0M309.1 148.5l8.0 8.0M309.1 156.5l8.0 -8.0M310.7 156.5h8.0M314.7 152.5v8.0M310.7 152.5l8.0 8.0M310.7 160.5l8.0 -8.0M312.4 152.1h8.0M316.4 148.1v8.0M312.4 148.1l8.0 8.0M312.4 156.1l8.0 -8.0M314.0 152.2h8.0M318.0 148.2v8.0M314.0 148.2l8.0 8.0M314.0 156.2l8.0 -8.0M315.7 156.2h8.0M319.7 152.2v8.0M315.7 152.2l8.0 8.0M315.7 160.2l8.0 -8.0M317.3 153.2h8.0M321.3 149.2v8.0M317.3 149.2l8.0 8.0M317.3 157.2l8.0 -8.0M319.0 153.4h8.0M323.0 149.4v8.0M319.0 149.4l8.0 8.0M319.0 157.4l8.0 -8.0M320.6 151.4h8.0M324.6 147.4v8.0M320.6 147.4l8.0 8.0M320.6 155.4l8.0 -8.0M322.2 151.0h8.0M326.2 147.0v8.0M322.2 147.0l8.0 8.0M322.2 155.0l8.0 -8.0M323.9 152.7h8.0M327.9 148.7v8.0M323.9 148.7l8.0 8.0M323.9 156.7l8.0 -8.0M325.5 154.8h8.0M329.5 150.8v8.0M325.5 150.8l8.0 8.0M325.5 158.8l8.0 -8.0M327.2 153.0h8.0M331.2 149.0v8.0M327.2 149.0l8.0 8.0M327.2 157.0l8.0 -8.0M328.8 152.8h8.0M332.8 148.8v8.0M328.8 148.8l8.0 8.0M328.8 156.8l8.0 -8.0M330.5 150.7h8.0M334.5 146.7v8.0M330.5 146.7l8.0 8.0M330.5 154.7l8.0 -8.0M332.1 151.8h8.0M336.1 147.8v8.0M332.1 147.8l8.0 8.0M332.1 155.8l8.0 -8.0M333.8 154.5h8.0M337.8 150.5v8.0M333.8 150.5l8.0 8.0M333.8 158.5l8.0 -8.0M335.4 156.1h8.0M339.4 152.1v8.0M335.4 152.1l8.0 8.0M335.4 160.1l8.0 -8.0M337.0 153.6h8.0M341.0 149.6v8.0M337.0 149.6l8.0 8.0M337.0 157.6l8.0 -8.0M338.7 154.5h8.0M342.7 150.5v8.0M338.7 150.5l8.0 8.0M338.7 158.5l8.0 -8.0M340.3 155.5h8.0M344.3 151.5v8.0M340.3 151.5l8.0 8.0M340.3 159.5l8.0 -8.0M342.0 152.9h8.0M346.0 148.9v8.0M342.0 148.9l8.0 8.0M342.0 156.9l8.0 -8.0M343.6 153.9h8.0M347.6 149.9v8.0M343.6 149.9l8.0 8.0M343.6 157.9l8.0 -8.0M345.3 152.3h8.0M349.3 148.3v8.0M345.3 148.3l8.0 8.0M345.3 156.3l8.0 -8.0M346.9 151.2h8.0M350.9 147.2v8.0M346.9 147.2l8.0 8.0M346.9 155.2l8.0 -8.0M348.6 153.7h8.0M352.6 149.7v8.0M348.6 149.7l8.0 8.0M348.6 157.7l8.0 -8.0M350.2 146.6h8.0M354.2 142.6v8.0M350.2 142.6l8.0 8.0M350.2 150.6l8.0 -8.0M351.8 153.4h8.0M355.8 149.4v8.0M351.8 149.4l8.0 8.0M351.8 157.4l8.0 -8.0M353.5 149.8h8.0M357.5 145.8v8.0M353.5 145.8l8.0 8.0M353.5 153.8l8.0 -8.0M355.1 152.3h8.0M359.1 148.3v8.0M355.1 148.3l8.0 8.0M355.1 156.3l8.0 -8.0M356.8 149.7h8.0M360.8 145.7v8.0M356.8 145.7l8.0 8.0M356.8 153.7l8.0 -8.0M358.4 158.7h8.0M362.4 154.7v8.0M358.4 154.7l8.0 8.0M358.4 162.7l8.0 -8.0M360.1 154.5h8.0M364.1 150.5v8.0M360.1 150.5l8.0 8.0M360.1 158.5l8.0 -8.0M361.7 152.0h8.0M365.7 148.0v8.0M361.7 148.0l8.0 8.0M361.7 156.0l8.0 -8.0M363.4 151.0h8.0M367.4 147.0v8.0M363.4 147.0l8.0 8.0M363.4 155.0l8.0 -8.0M365.0 146.6h8.0M369.0 142.6v8.0M365.0 142.6l8.0 8.0M365.0 150.6l8.0 -8.0M366.6 151.8h8.0M370.6 147.8v8.0M366.6 147.8l8.0 8.0M366.6 155.8l8.0 -8.0M368.3 149.3h8.0M372.3 145.3v8.0M368.3 145.3l8.0 8.0M368.3 153.3l8.0 -8.0M369.9 150.6h8.0M373.9 146.6v8.0M369.9 146.6l8.0 8.0M369.9 154.6l8.0 -8.0M371.6 150.2h8.0M375.6 146.2v8.0M371.6 146.2l8.0 8.0M371.6 154.2l8.0 -8.0M373.2 151.3h8.0M377.2 147.3v8.0M373.2 147.3l8.0 8.0M373.2 155.3l8.0 -8.0M374.9 153.0h8.0M378.9 149.0v8.0M374.9 149.0l8.0 8.0M374.9 157.0l8.0 -8.0M376.5 151.3h8.0M380.5 147.3v8.0M376.5 147.3l8.0 8.0M376.5 155.3l8.0 -8.0M378.2 155.4h8.0M382.2 151.4v8.0M378.2 151.4l8.0 8.0M378.2 159.4l8.0 -8.0M379.8 149.6h8.0M383.8 145.6v8.0M379.8 145.6l8.0 8.0M379.8 153.6l8.0 -8.0M381.4 155.2h8.0M385.4 151.2v8.0M381.4 151.2l8.0 8.0M381.4 159.2l8.0 -8.0M383.1 152.0h8.0M387.1 148.0v8.0M383.1 148.0l8.0 8.0M383.1 156.0l8.0 -8.0M384.7 147.1h8.0M388.7 143.1v8.0M384.7 143.1l8.0 8.0M384.7 151.1l8.0 -8.0M386.4 153.2h8.0M390.4 149.2v8.0M386.4 149.2l8.0 8.0M386.4 157.2l8.0 -8.0M388.0 152.5h8.0M392.0 148.5v8.0M388.0 148.5l8.0 8.0M388.0 156.5l8.0 -8.0M389.7 149.6h8.0M393.7 145.6v8.0M389.7 145.6l8.0 8.0M389.7 153.6l8.0 -8.0M391.3 152.5h8.0M395.3 148.5v8.0M391.3 148.5l8.0 8.0M391.3 156.5l8.0 -8.0M393.0 154.7h8.0M397.0 150.7v8.0M393.0 150.7l8.0 8.0M393.0 158.7l8.0 -8.0M394.6 151.9h8.0M398.6 147.9v8.0M394.6 147.9l8.0 8.0M394.6 155.9l8.0 -8.0M396.2 151.1h8.0M400.2 147.1v8.0M396.2 147.1l8.0 8.0M396.2 155.1l8.0 -8.0M397.9 150.8h8.0M401.9 146.8v8.0M397.9 146.8l8.0 8.0M397.9 154.8l8.0 -8.0M399.5 154.6h8.0M403.5 150.6v8.0M399.5 150.6l8.0 8.0M399.5 158.6l8.0 -8.0M401.2 148.1h8.0M405.2 144.1v8.0M401.2 144.1l8.0 8.0M401.2 152.1l8.0 -8.0M402.8 148.3h8.0M406.8 144.3v8.0M402.8 144.3l8.0 8.0M402.8 152.3l8.0 -8.0M404.5 152.6h8.0M408.5 148.6v8.0M404.5 148.6l8.0 8.0M404.5 156.6l8.0 -8.0M406.1 151.9h8.0M410.1 147.9v8.0M406.1 147.9l8.0 8.0M406.1 155.9l8.0 -8.0M407.8 153.7h8.0M411.8 149.7v8.0M407.8 149.7l8.0 8.0M407.8 157.7l8.0 -8.0M409.4 149.0h8.0M413.4 145.0v8.0M409.4 145.0l8.0 8.0M409.4 153.0l8.0 -8.0M411.0 154.4h8.0M415.0 150.4v8.0M411.0 150.4l8.0 8.0M411.0 158.4l8.0 -8.0M412.7 150.9h8.0M416.7 146.9v8.0M412.7 146.9l8.0 8.0M412.7 154.9l8.0 -8.0M414.3 153.8h8.0M418.3 149.8v8.0M414.3 149.8l8.0 8.0M414.3 157.8l8.0 -8.0M416.0 154.4h8.0M420.0 150.4v8.0M416.0 150.4l8.0 8.0M416.0 158.4l8.0 -8.0M417.6 150.7h8.0M421.6 146.7v8.0M417.6 146.7l8.0 8.0M417.6 154.7l8.0 -8.0M419.3 149.2h8.0M423.3 145.2v8.0M419.3 145.2l8.0 8.0M419.3 153.2l8.0 -8.0M420.9 152.6h8.0M424.9 148.6v8.0M420.9 148.6l8.0 8.0M420.9 156.6l8.0 -8.0M422.6 154.3h8.0M426.6 150.3v8.0M422.6 150.3l8.0 8.0M422.6 158.3l8.0 -8.0M424.2 150.5h8.0M428.2 146.5v8.0M424.2 146.5l8.0 8.0M424.2 154.5l8.0 -8.0M425.8 152.7h8.0M429.8 148.7v8.0M425.8 148.7l8.0 8.0M425.8 156.7l8.0 -8.0M427.5 151.8h8.0M431.5 147.8v8.0M427.5 147.8l8.0 8.0M427.5 155.8l8.0 -8.0M429.1 148.7h8.0M433.1 144.7v8.0M429.1 144.7l8.0 8.0M429.1 152.7l8.0 -8.0M430.8 149.7h8.0M434.8 145.7v8.0M430.8 145.7l8.0 8.0M430.8 153.7l8.0 -8.0M432.4 153.9h8.0M436.4 149.9v8.0M432.4 149.9l8.0 8.0M432.4 157.9l8.0 -8.0M434.1 146.7h8.0M438.1 142.7v8.0M434.1 142.7l8.0 8.0M434.1 150.7l8.0 -8.0M435.7 152.6h8.0M439.7 148.6v8.0M435.7 148.6l8.0 8.0M435.7 156.6l8.0 -8.0M437.4 150.6h8.0M441.4 146.6v8.0M437.4 146.6l8.0 8.0M437.4 154.6l8.0 -8.0M439.0 154.3h8.0M443.0 150.3v8.0M439.0 150.3l8.0 8.0M439.0 158.3l8.0 -8.0M440.6 152.7h8.0M444.6 148.7v8.0M440.6 148.7l8.0 8.0M440.6 156.7l8.0 -8.0M442.3 157.1h8.0M446.3 153.1v8.0M442.3 153.1l8.0 8.0M442.3 161.1l8.0 -8.0M443.9 148.0h8.0M447.9 144.0v8.0M443.9 144.0l8.0 8.0M443.9 152.0l8.0 -8.0M445.6 149.1h8.0M449.6 145.1v8.0M445.6 145.1l8.0 8.0M445.6 153.1l8.0 -8.0M447.2 155.7h8.0M451.2 151.7v8.0M447.2 151.7l8.0 8.0M447.2 159.7l8.0 -8.0M448.9 156.5h8.0M452.9 152.5v8.0M448.9 152.5l8.0 8.0M448.9 160.5l8.0 -8.0M450.5 156.8h8.0M454.5 152.8v8.0M450.5 152.8l8.0 8.0M450.5 160.8l8.0 -8.0M452.2 149.6h8.0M456.2 145.6v8.0M452.2 145.6l8.0 8.0M452.2 153.6l8.0 -8.0M453.8 153.8h8.0M457.8 149.8v8.0M453.8 149.8l8.0 8.0M453.8 157.8l8.0 -8.0M455.4 152.8h8.0M459.4 148.8v8.0M455.4 148.8l8.0 8.0M455.4 156.8l8.0 -8.0M457.1 153.4h8.0M461.1 149.4v8.0M457.1 149.4l8.0 8.0M457.1 157.4l8.0 -8.0M458.7 152.9h8.0M462.7 148.9v8.0M458.7 148.9l8.0 8.0M458.7 156.9l8.0 -8.0M460.4 155.4h8.0M464.4 151.4v8.0M460.4 151.4l8.0 8.0M460.4 159.4l8.0 -8.0M462.0 152.5h8.0M466.0 148.5v8.0M462.0 148.5l8.0 8.0M462.0 156.5l8.0 -8.0M463.7 156.3h8.0M467.7 152.3v8.0M463.7 152.3l8.0 8.0M463.7 160.3l8.0 -8.0M465.3 152.8h8.0M469.3 148.8v8.0M465.3 148.8l8.0 8.0M465.3 156.8l8.0 -8.0M467.0 151.8h8.0M471.0 147.8v8.0M467.0 147.8l8.0 8.0M467.0 155.8l8.0 -8.0M468.6 151.4h8.0M472.6 147.4v8.0M468.6 147.4l8.0 8.0M468.6 155.4l8.0 -8.0M470.2 153.2h8.0M474.2 149.2v8.0M470.2 149.2l8.0 8.0M470.2 157.2l8.0 -8.0M471.9 154.9h8.0M475.9 150.9v8.0M471.9 150.9l8.0 8.0M471.9 158.9l8.0 -8.0M473.5 152.2h8.0M477.5 148.2v8.0M473.5 148.2l8.0 8.0M473.5 156.2l8.0 -8.0M475.2 153.9h8.0M479.2 149.9v8.0M475.2 149.9l8.0 8.0M475.2 157.9l8.0 -8.0M476.8 148.6h8.0M480.8 144.6v8.0M476.8 144.6l8.0 8.0M476.8 152.6l8.0 -8.0M478.5 150.6h8.0M482.5 146.6v8.0M478.5 146.6l8.0 8.0M478.5 154.6l8.0 -8.0M480.1 152.9h8.0M484.1 148.9v8.0M480.1 148.9l8.0 8.0M480.1 156.9l8.0 -8.0M481.8 153.8h8.0M485.8 149.8v8.0M481.8 149.8l8.0 8.0M481.8 157.8l8.0 -8.0M483.4 154.4h8.0M487.4 150.4v8.0M483.4 150.4l8.0 8.0M483.4 158.4l8.0 -8.0M485.0 155.0h8.0M489.0 151.0v8.0M485.0 151.0l8.0 8.0M485.0 159.0l8.0 -8.0M486.7 153.5h8.0M490.7 149.5v8.0M486.7 149.5l8.0 8.0M486.7 157.5l8.0 -8.0M488.3 151.8h8.0M492.3 147.8v8.0M488.3 147.8l8.0 8.0M488.3 155.8l8.0 -8.0M490.0 151.3h8.0M494.0 147.3v8.0M490.0 147.3l8.0 8.0M490.0 155.3l8.0 -8.0M491.6 151.1h8.0M495.6 147.1v8.0M491.6 147.1l8.0 8.0M491.6 155.1l8.0 -8.0M493.3 147.2h8.0M497.3 143.2v8.0M493.3 143.2l8.0 8.0M493.3 151.2l8.0 -8.0M494.9 154.4h8.0M498.9 150.4v8.0M494.9 150.4l8.0 8.0M494.9 158.4l8.0 -8.0M496.6 152.6h8.0M500.6 148.6v8.0M496.6 148.6l8.0 8.0M496.6 156.6l8.0 -8.0M498.2 145.4h8.0M502.2 141.4v8.0M498.2 141.4l8.0 8.0M498.2 149.4l8.0 -8.0M499.8 157.4h8.0M503.8 153.4v8.0M499.8 153.4l8.0 8.0M499.8 161.4l8.0 -8.0M501.5 153.9h8.0M505.5 149.9v8.0M501.5 149.9l8.0 8.0M501.5 157.9l8.0 -8.0M503.1 152.2h8.0M507.1 148.2v8.0M503.1 148.2l8.0 8.0M503.1 156.2l8.0 -8.0M504.8 152.2h8.0M508.8 148.2v8.0M504.8 148.2l8.0 8.0M504.8 156.2l8.0 -8.0M506.4 151.5h8.0M510.4 147.5v8.0M506.4 147.5l8.0 8.0M506.4 155.5l8.0 -8.0M508.1 153.2h8.0M512.1 149.2v8.0M508.1 149.2l8.0 8.0M508.1 157.2l8.0 -8.0M509.7 151.7h8.0M513.7 147.7v8.0M509.7 147.7l8.0 8.0M509.7 155.7l8.0 -8.0M511.4 152.5h8.0M515.4 148.5v8.0M511.4 148.5l8.0 8.0M511.4 156.5l8.0 -8.0M513.0 150.6h8.0M517.0 146.6v8.0M513.0 146.6l8.0 8.0M513.0 154.6l8.0 -8.0M514.6 157.5h8.0M518.6 153.5v8.0M514.6 153.5l8.0 8.0M514.6 161.5l8.0 -8.0M516.3 154.9h8.0M520.3 150.9v8.0M516.3 150.9l8.0 8.0M516.3 158.9l8.0 -8.0M517.9 152.6h8.0M521.9 148.6v8.0M517.9 148.6l8.0 8.0M517.9 156.6l8.0 -8.0M519.6 155.3h8.0M523.6 151.3v8.0M519.6 151.3l8.0 8.0M519.6 159.3l8.0 -8.0M521.2 155.3h8.0M525.2 151.3v8.0M521.2 151.3l8.0 8.0M521.2 159.3l8.0 -8.0M522.9 151.0h8.0M526.9 147.0v8.0M522.9 147.0l8.0 8.0M522.9 155.0l8.0 -8.0M524.5 154.3h8.0M528.5 150.3v8.0M524.5 150.3l8.0 8.0M524.5 158.3l8.0 -8.0M526.2 151.0h8.0M530.2 147.0v8.0M526.2 147.0l8.0 8.0M526.2 155.0l8.0 -8.0M527.8 150.7h8.0M531.8 146.7v8.0M527.8 146.7l8.0 8.0M527.8 154.7l8.0 -8.0M529.4 151.8h8.0M533.4 147.8v8.0M529.4 147.8l8.0 8.0M529.4 155.8l8.0 -8.0M531.1 151.3h8.0M535.1 147.3v8.0M531.1 147.3l8.0 8.0M531.1 155.3l8.0 -8.0M532.7 152.9h8.0M536.7 148.9v8.0M532.7 148.9l8.0 8.0M532.7 156.9l8.0 -8.0M534.4 156.2h8.0M538.4 152.2v8.0M534.4 152.2l8.0 8.0M534.4 160.2l8.0 -8.0M536.0 152.7h8.0M540.0 148.7v8.0M536.0 148.7l8.0 8.0M536.0 156.7l8.0 -8.0M537.7 151.4h8.0M541.7 147.4v8.0M537.7 147.4l8.0 8.0M537.7 155.4l8.0 -8.0M539.3 154.0h8.0M543.3 150.0v8.0M539.3 150.0l8.0 8.0M539.3 158.0l8.0 -8.0M541.0 152.9h8.0M545.0 148.9v8.0M541.0 148.9l8.0 8.0M541.0 156.9l8.0 -8.0M542.6 150.7h8.0M546.6 146.7v8.0M542.6 146.7l8.0 8.0M542.6 154.7l8.0 -8.0M544.2 154.9h8.0M548.2 150.9v8.0M544.2 150.9l8.0 8.0M544.2 158.9l8.0 -8.0M545.9 150.9h8.0M549.9 146.9v8.0M545.9 146.9l8.0 8.0M545.9 154.9l8.0 -8.0M547.5 147.8h8.0M551.5 143.8v8.0M547.5 143.8l8.0 8.0M547.5 151.8l8.0 -8.0M549.2 154.0h8.0M553.2 150.0v8.0M549.2 150.0l8.0 8.0M549.2 158.0l8.0 -8.0M550.8 152.2h8.0M554.8 148.2v8.0M550.8 148.2l8.0 8.0M550.8 156.2l8.0 -8.0M552.5 153.0h8.0M556.5 149.0v8.0M552.5 149.0l8.0 8.0M552.5 157.0l8.0 -8.0M554.1 148.6h8.0M558.1 144.6v8.0M554.1 144.6l8.0 8.0M554.1 152.6l8.0 -8.0M555.8 151.8h8.0M559.8 147.8v8.0M555.8 147.8l8.0 8.0M555.8 155.8l8.0 -8.0M557.4 150.3h8.0M561.4 146.3v8.0M557.4 146.3l8.0 8.0M557.4 154.3l8.0 -8.0M559.0 154.4h8.0M563.0 150.4v8.0M559.0 150.4l8.0 8.0M559.0 158.4l8.0 -8.0M560.7 152.6h8.0M564.7 148.6v8.0M560.7 148.6l8.0 8.0M560.7 156.6l8.0 -8.0M562.3 152.6h8.0M566.3 148.6v8.0M562.3 148.6l8.0 8.0M562.3 156.6l8.0 -8.0M564.0 157.2h8.0M568.0 153.2v8.0M564.0 153.2l8.0 8.0M564.0 161.2l8.0 -8.0M565.6 148.9h8.0M569.6 144.9v8.0M565.6 144.9l8.0 8.0M565.6 152.9l8.0 -8.0M567.3 150.3h8.0M571.3 146.3v8.0M567.3 146.3l8.0 8.0M567.3 154.3l8.0 -8.0M568.9 157.1h8.0M572.9 153.1v8.0M568.9 153.1l8.0 8.0M568.9 161.1l8.0 -8.0M570.6 150.7h8.0M574.6 146.7v8.0M570.6 146.7l8.0 8.0M570.6 154.7l8.0 -8.0M572.2 152.9h8.0M576.2 148.9v8.0M572.2 148.9l8.0 8.0M572.2 156.9l8.0 -8.0M573.9 151.4h8.0M577.9 147.4v8.0M573.9 147.4l8.0 8.0M573.9 155.4l8.0 -8.0M575.5 151.7h8.0M579.5 147.7v8.0M575.5 147.7l8.0 8.0M575.5 155.7l8.0 -8.0M577.1 156.5h8.0M581.1 152.5v8.0M577.1 152.5l8.0 8.0M577.1 160.5l8.0 -8.0M578.8 153.1h8.0M582.8 149.1v8.0M578.8 149.1l8.0 8.0M578.8 157.1l8.0 -8.0M580.4 148.7h8.0M584.4 144.7v8.0M580.4 144.7l8.0 8.0M580.4 152.7l8.0 -8.0M582.1 154.1h8.0M586.1 150.1v8.0M582.1 150.1l8.0 8.0M582.1 158.1l8.0 -8.0M583.7 155.2h8.0M587.7 151.2v8.0M583.7 151.2l8.0 8.0M583.7 159.2l8.0 -8.0M585.4 156.3h8.0M589.4 152.3v8.0M585.4 152.3l8.0 8.0M585.4 160.3l8.0 -8.0M587.0 156.4h8.0M591.0 152.4v8.0M587.0 152.4l8.0 8.0M587.0 160.4l8.0 -8.0M588.7 153.2h8.0M592.7 149.2v8.0M588.7 149.2l8.0 8.0M588.7 157.2l8.0 -8.0M590.3 150.5h8.0M594.3 146.5v8.0M590.3 146.5l8.0 8.0M590.3 154.5l8.0 -8.0M591.9 154.4h8.0M595.9 150.4v8.0M591.9 150.4l8.0 8.0M591.9 158.4l8.0 -8.0M593.6 155.2h8.0M597.6 151.2v8.0M593.6 151.2l8.0 8.0M593.6 159.2l8.0 -8.0M595.2 150.0h8.0M599.2 146.0v8.0M595.2 146.0l8.0 8.0M595.2 154.0l8.0 -8.0M596.9 157.1h8.0M600.9 153.1v8.0M596.9 153.1l8.0 8.0M596.9 161.1l8.0 -8.0M598.5 157.5h8.0M602.5 153.5v8.0M598.5 153.5l8.0 8.0M598.5 161.5l8.0 -8.0M600.2 154.4h8.0M604.2 150.4v8.0M600.2 150.4l8.0 8.0M600.2 158.4l8.0 -8.0M601.8 154.4h8.0M605.8 150.4v8.0M601.8 150.4l8.0 8.0M601.8 158.4l8.0 -8.0M603.5 158.4h8.0M607.5 154.4v8.0M603.5 154.4l8.0 8.0M603.5 162.4l8.0 -8.0M605.1 158.8h8.0M609.1 154.8v8.0M605.1 154.8l8.0 8.0M605.1 162.8l8.0 -8.0M606.7 155.0h8.0M610.7 151.0v8.0M606.7 151.0l8.0 8.0M606.7 159.0l8.0 -8.0M608.4 155.2h8.0M612.4 151.2v8.0M608.4 151.2l8.0 8.0M608.4 159.2l8.0 -8.0M610.0 159.2h8.0M614.0 155.2v8.0M610.0 155.2l8.0 8.0M610.0 163.2l8.0 -8.0M611.7 156.3h8.0M615.7 152.3v8.0M611.7 152.3l8.0 8.0M611.7 160.3l8.0 -8.0M613.3 157.2h8.0M617.3 153.2v8.0M613.3 153.2l8.0 8.0M613.3 161.2l8.0 -8.0M615.0 154.6h8.0M619.0 150.6v8.0M615.0 150.6l8.0 8.0M615.0 158.6l8.0 -8.0M616.6 156.1h8.0M620.6 152.1v8.0M616.6 152.1l8.0 8.0M616.6 160.1l8.0 -8.0M618.3 156.0h8.0M622.3 152.0v8.0M618.3 152.0l8.0 8.0M618.3 160.0l8.0 -8.0M619.9 156.7h8.0M623.9 152.7v8.0M619.9 152.7l8.0 8.0M619.9 160.7l8.0 -8.0M621.5 153.1h8.0M625.5 149.1v8.0M621.5 149.1l8.0 8.0M621.5 157.1l8.0 -8.0M623.2 152.2h8.0M627.2 148.2v8.0M623.2 148.2l8.0 8.0M623.2 156.2l8.0 -8.0M624.8 156.7h8.0M628.8 152.7v8.0M624.8 152.7l8.0 8.0M624.8 160.7l8.0 -8.0M626.5 153.2h8.0M630.5 149.2v8.0M626.5 149.2l8.0 8.0M626.5 157.2l8.0 -8.0M628.1 156.6h8.0M632.1 152.6v8.0M628.1 152.6l8.0 8.0M628.1 160.6l8.0 -8.0M629.8 153.6h8.0M633.8 149.6v8.0M629.8 149.6l8.0 8.0M629.8 157.6l8.0 -8.0M631.4 151.2h8.0M635.4 147.2v8.0M631.4 147.2l8.0 8.0M631.4 155.2l8.0 -8.0M633.1 148.8h8.0M637.1 144.8v8.0M633.1 144.8l8.0 8.0M633.1 152.8l8.0 -8.0M634.7 153.6h8.0M638.7 149.6v8.0M634.7 149.6l8.0 8.0M634.7 157.6l8.0 -8.0M636.3 152.8h8.0M640.3 148.8v8.0M636.3 148.8l8.0 8.0M636.3 156.8l8.0 -8.0M638.0 152.1h8.0M642.0 148.1v8.0M638.0 148.1l8.0 8.0M638.0 156.1l8.0 -8.0M639.6 156.5h8.0M643.6 152.5v8.0M639.6 152.5l8.0 8.0M639.6 160.5l8.0 -8.0M641.3 152.6h8.0M645.3 148.6v8.0M641.3 148.6l8.0 8.0M641.3 156.6l8.0 -8.0M642.9 154.3h8.0M646.9 150.3v8.0M642.9 150.3l8.0 8.0M642.9 158.3l8.0 -8.0M644.6 151.6h8.0M648.6 147.6v8.0M644.6 147.6l8.0 8.0M644.6 155.6l8.0 -8.0M646.2 155.5h8.0M650.2 151.5v8.0M646.2 151.5l8.0 8.0M646.2 159.5l8.0 -8.0M647.9 157.7h8.0M651.9 153.7v8.0M647.9 153.7l8.0 8.0M647.9 161.7l8.0 -8.0M649.5 152.5h8.0M653.5 148.5v8.0M649.5 148.5l8.0 8.0M649.5 156.5l8.0 -8.0M651.1 151.9h8.0M655.1 147.9v8.0M651.1 147.9l8.0 8.0M651.1 155.9l8.0 -8.0M652.8 154.0h8.0M656.8 150.0v8.0M652.8 150.0l8.0 8.0M652.8 158.0l8.0 -8.0M654.4 150.3h8.0M658.4 146.3v8.0M654.4 146.3l8.0 8.0M654.4 154.3l8.0 -8.0M656.1 153.3h8.0M660.1 149.3v8.0M656.1 149.3l8.0 8.0M656.1 157.3l8.0 -8.0M657.7 154.2h8.0M661.7 150.2v8.0M657.7 150.2l8.0 8.0M657.7 158.2l8.0 -8.0M659.4 151.4h8.0M663.4 147.4v8.0M659.4 147.4l8.0 8.0M659.4 155.4l8.0 -8.0M661.0 156.6h8.0M665.0 152.6v8.0M661.0 152.6l8.0 8.0M661.0 160.6l8.0 -8.0"/>
<polyline fill="none" stroke="#8b0000" stroke-width="1.1" points="86.1,186.2 87.8,185.5 89.4,187.1 91.1,188.3 92.7,189.9 94.4,189.2 96.0,187.7 97.7,189.4 99.3,189.7 100.9,191.1 102.6,192.1 104.2,194.2 105.9,198.5 107.5,195.4 109.2,194.5 110.8,193.8 112.5,197.1 114.1,197.8 115.7,195.5 117.4,193.2 119.0,190.9 120.7,190.6 122.3,188.2 124.0,188.1 125.6,185.9 127.3,185.3 128.9,187.2 130.5,184.1 132.2,185.1 133.8,184.9 135.5,189.2 137.1,191.8 138.8,192.4 140.4,192.3 142.1,192.3 143.7,193.9 145.3,195.5 147.0,196.3 148.6,195.2 150.3,191.5 151.9,193.6 153.6,192.1 155.2,190.0 156.9,191.3 158.5,188.7 160.1,186.1 161.8,191.0 163.4,189.5 165.1,188.4 166.7,188.6 168.4,186.1 170.0,185.9 171.7,188.1 173.3,185.5 174.9,186.0 176.6,186.7 178.2,186.9 179.9,188.8 181.5,190.0 183.2,193.6 184.8,192.4 186.5,194.6 188.1,195.1 189.7,195.9 191.4,194.4 193.0,192.3 194.7,188.4 196.3,192.7 198.0,192.7 199.6,189.3 201.3,185.9 202.9,186.0 204.5,190.0 206.2,192.1 207.8,187.7 209.5,187.7 211.1,188.0 212.8,184.5 214.4,183.4 216.1,185.2 217.7,186.5 219.3,187.5 221.0,186.6 222.6,188.1 224.3,189.0 225.9,190.4 227.6,195.6 229.2,193.1 230.9,192.6 232.5,192.4 234.1,195.6 235.8,193.5 237.4,190.2 239.1,193.1 240.7,190.6 242.4,187.6 244.0,189.6 245.7,184.8 247.3,185.0 249.0,186.3 250.6,186.1 252.2,185.5 253.9,186.2 255.5,184.5 257.2,186.7 258.8,186.8 260.5,185.1 262.1,187.9 263.8,191.7 265.4,190.5 267.0,189.2 268.7,192.9 270.3,196.6 272.0,196.2 273.6,196.0 275.3,195.8 276.9,192.6 278.6,195.3 280.2,192.1 281.8,195.3 283.5,194.4 285.1,190.4 286.8,187.4 288.4,186.9 290.1,187.5 291.7,187.6 293.4,187.2 295.0,186.2 296.6,187.1 298.3,186.3 299.9,185.2 301.6,185.3 303.2,184.1 304.9,184.5 306.5,183.6 308.2,187.3 309.8,190.1 311.4,191.0 313.1,191.9 314.7,191.8 316.4,193.9 318.0,194.6 319.7,191.6 321.3,196.5 323.0,194.2 324.6,190.6 326.2,189.4 327.9,189.1 329.5,189.8 331.2,188.1 332.8,188.1 334.5,188.8 336.1,183.2 337.8,184.1 339.4,185.8 341.0,186.3 342.7,188.2 344.3,190.1 346.0,196.1 347.6,194.3 349.3,191.2 350.9,194.0 352.6,193.2 354.2,191.3 355.8,190.7 357.5,189.1 359.1,193.3 360.8,192.0 362.4,191.5 364.1,189.3 365.7,186.3 367.4,190.1 369.0,184.3 370.6,187.0 372.3,184.6 373.9,187.8 375.6,186.4 377.2,184.5 378.9,186.2 380.5,186.3 382.2,185.9 383.8,187.4 385.4,188.4 387.1,186.1 388.7,186.9 390.4,190.2 392.0,186.9 393.7,192.6 395.3,190.8 397.0,192.1 398.6,191.3 400.2,189.5 401.9,189.1 403.5,187.9 405.2,191.2 406.8,191.5 408.5,187.3 410.1,188.0 411.8,188.4 413.4,189.2 415.0,184.8 416.7,184.2 418.3,182.6 420.0,186.1 421.6,185.7 423.3,188.7 424.9,187.9 426.6,187.3 428.2,191.2 429.8,188.8 431.5,189.9 433.1,192.9 434.8,196.9 436.4,192.1 438.1,192.2 439.7,192.2 441.4,190.3 443.0,189.7 444.6,187.1 446.3,189.7 447.9,186.3 449.6,184.5 451.2,184.0 452.9,186.1 454.5,186.9 456.2,183.7 457.8,183.8 459.4,183.8 461.1,182.4 462.7,186.1 464.4,191.7 466.0,190.6 467.7,193.0 469.3,190.8 471.0,192.2 472.6,194.1 474.2,193.8 475.9,191.8 477.5,191.5 479.2,188.8 480.8,190.3 482.5,188.9 484.1,187.5 485.8,186.7 487.4,190.1 489.0,188.5 490.7,192.1 492.3,191.2 494.0,191.7 495.6,186.4 497.3,188.4 498.9,187.3 500.6,187.8 502.2,188.4 503.8,189.8 505.5,189.2 507.1,189.2 508.8,193.8 510.4,193.7 512.1,192.3 513.7,193.0 515.4,194.3 517.0,193.0 518.6,189.9 520.3,193.4 521.9,192.4 523.6,189.1 525.2,188.2 526.9,189.1 528.5,188.0 530.2,188.3 531.8,189.9 533.4,190.5 535.1,189.1 536.7,186.7 538.4,189.5 540.0,192.1 541.7,193.4 543.3,195.1 545.0,193.6 546.6,195.8 548.2,194.6 549.9,198.9 551.5,195.4 553.2,195.9 554.8,197.8 556.5,193.5 558.1,193.3 559.8,196.1 561.4,194.7 563.0,192.1 564.7,191.7 566.3,188.6 568.0,187.0 569.6,186.5 571.3,186.9 572.9,185.1 574.6,185.2 576.2,185.4 577.9,189.5 579.5,186.2 581.1,185.0 582.8,187.7 584.4,188.8 586.1,185.9 587.7,192.3 589.4,191.9 591.0,189.5 592.7,194.7 594.3,193.3 595.9,190.5 597.6,192.5 599.2,191.6 600.9,190.6 602.5,193.2 604.2,192.2 605.8,190.7 607.5,188.8 609.1,189.3 610.7,189.7 612.4,191.1 614.0,190.1 615.7,187.4 617.3,187.6 619.0,189.0 620.6,189.5 622.3,184.0 623.9,185.2 625.5,186.7 627.2,192.5 628.8,189.0 630.5,188.7 632.1,187.6 633.8,190.2 635.4,192.7 637.1,192.9 638.7,197.0 640.3,193.0 642.0,192.3 643.6,193.0 645.3,189.2 646.9,186.8 648.6,191.3 650.2,191.3 651.9,188.9 653.5,187.5 655.1,187.3 656.8,188.0 658.4,183.0 660.1,182.5 661.7,185.0 663.4,185.3 665.0,180.1"/>
<g fill="#8b0000"><circle cx="86.1" cy="186.2" r="4.2"/><circle cx="87.8" cy="185.5" r="4.2"/><circle cx="89.4" cy="187.1" r="4.2"/><circle cx="91.1" cy="188.3" r="4.2"/><circle cx="92.7" cy="189.9" r="4.2"/><circle cx="94.4" cy="189.2" r="4.2"/><circle cx="96.0" cy="187.7" r="4.2"/><circle cx="97.7" cy="189.4" r="4.2"/><circle cx="99.3" cy="189.7" r="4.2"/><circle cx="100.9" cy="191.1" r="4.2"/><circle cx="102.6" cy="192.1" r="4.2"/><circle cx="104.2" cy="194.2" r="4.2"/><circle cx="105.9" cy="198.5" r="4.2"/><circle cx="107.5" cy="195.4" r="4.2"/><circle cx="109.2" cy="194.5" r="4.2"/><circle cx="110.8" cy="193.8" r="4.2"/><circle cx="112.5" cy="197.1" r="4.2"/><circle cx="114.1" cy="197.8" r="4.2"/><circle cx="115.7" cy="195.5" r="4.2"/><circle cx="117.4" cy="193.2" r="4.2"/><circle cx="119.0" cy="190.9" r="4.2"/><circle cx="120.7" cy="190.6" r="4.2"/><circle cx="122.3" cy="188.2" r="4.2"/><circle cx="124.0" cy="188.1" r="4.2"/><circle cx="125.6" cy="185.9" r="4.2"/><circle cx="127.3" cy="185.3" r="4.2"/><circle cx="128.9" cy="187.2" r="4.2"/><circle cx="130.5" cy="184.1" r="4.2"/><circle cx="132.2" cy="185.1" r="4.2"/><circle cx="133.8" cy="184.9" r="4.2"/><circle cx="135.5" cy="189.2" r="4.2"/><circle cx="137.1" cy="191.8" r="4.2"/><circle cx="138.8" cy="192.4" r="4.2"/><circle cx="140.4" cy="192.3" r="4.2"/><circle cx="142.1" cy="192.3" r="4.2"/><circle cx="143.7" cy="193.9" r="4.2"/><circle cx="145.3" cy="195.5" r="4.2"/><circle cx="147.0" cy="196.3" r="4.2"/><circle cx="148.6" cy="195.2" r="4.2"/><circle cx="150.3" cy="191.5" r="4.2"/><circle cx="151.9" cy="193.6" r="4.2"/><circle cx="153.6" cy="192.1" r="4.2"/><circle cx="155.2" cy="190.0" r="4.2"/><circle cx="156.9" cy="191.3" r="4.2"/><circle cx="158.5" cy="188.7" r="4.2"/><circle cx="160.1" cy="186.1" r="4.2"/><circle cx="161.8" cy="191.0" r="4.2"/><circle cx="163.4" cy="189.5" r="4.2"/><circle cx="165.1" cy="188.4" r="4.2"/><circle cx="166.7" cy="188.6" r="4.2"/><circle cx="168.4" cy="186.1" r="4.2"/><circle cx="170.0" cy="185.9" r="4.2"/><circle cx="171.7" cy="188.1" r="4.2"/><circle cx="173.3" cy="185.5" r="4.2"/><circle cx="174.9" cy="186.0" r="4.2"/><circle cx="176.6" cy="186.7" r="4.2"/><circle cx="178.2" cy="186.9" r="4.2"/><circle cx="179.9" cy="188.8" r="4.2"/><circle cx="181.5" cy="190.0" r="4.2"/><circle cx="183.2" cy="193.6" r="4.2"/><circle cx="184.8" cy="192.4" r="4.2"/><circle cx="186.5" cy="194.6" r="4.2"/><circle cx="188.1" cy="195.1" r="4.2"/><circle cx="189.7" cy="195.9" r="4.2"/><circle cx="191.4" cy="194.4" r="4.2"/><circle cx="193.0" cy="192.3" r="4.2"/><circle cx="194.7" cy="188.4" r="4.2"/><circle cx="196.3" cy="192.7" r="4.2"/><circle cx="198.0" cy="192.7" r="4.2"/><circle cx="199.6" cy="189.3" r="4.2"/><circle cx="201.3" cy="185.9" r="4.2"/><circle cx="202.9" cy="186.0" r="4.2"/><circle cx="204.5" cy="190.0" r="4.2"/><circle cx="206.2" cy="192.1" r="4.2"/><circle cx="207.8" cy="187.7" r="4.2"/><circle cx="209.5" cy="187.7" r="4.2"/><circle cx="211.1" cy="188.0" r="4.2"/><circle cx="212.8" cy="184.5" r="4.2"/><circle cx="214.4" cy="183.4" r="4.2"/><circle cx="216.1" cy="185.2" r="4.2"/><circle cx="217.7" cy="186.5" r="4.2"/><circle cx="219.3" cy="187.5" r="4.2"/><circle cx="221.0" cy="186.6" r="4.2"/><circle cx="222.6" cy="188.1" r="4.2"/><circle cx="224.3" cy="189.0" r="4.2"/><circle cx="225.9" cy="190.4" r="4.2"/><circle cx="227.6" cy="195.6" r="4.2"/><circle cx="229.2" cy="193.1" r="4.2"/><circle cx="230.9" cy="192.6" r="4.2"/><circle cx="232.5" cy="192.4" r="4.2"/><circle cx="234.1" cy="195.6" r="4.2"/><circle cx="235.8" cy="193.5" r="4.2"/><circle cx="237.4" cy="190.2" r="4.2"/><circle cx="239.1" cy="193.1" r="4.2"/><circle cx="240.7" cy="190.6" r="4.2"/><circle cx="242.4" cy="187.6" r="4.2"/><circle cx="244.0" cy="189.6" r="4.2"/><circle cx="245.7" cy="184.8" r="4.2"/><circle cx="247.3" cy="185.0" r="4.2"/><circle cx="249.0" cy="186.3" r="4.2"/><circle cx="250.6" cy="186.1" r="4.2"/><circle cx="252.2" cy="185.5" r="4.2"/><circle cx="253.9" cy="186.2" r="4.2"/><circle cx="255.5" cy="184.5" r="4.2"/><circle cx="257.2" cy="186.7" r="4.2"/><circle cx="258.8" cy="186.8" r="4.2"/><circle cx="260.5" cy="185.1" r="4.2"/><circle cx="262.1" cy="187.9" r="4.2"/><circle cx="263.8" cy="191.7" r="4.2"/><circle cx="265.4" cy="190.5" r="4.2"/><circle cx="267.0" cy="189.2" r="4.2"/><circle cx="268.7" cy="192.9" r="4.2"/><circle cx="270.3" cy="196.6" r="4.2"/><circle cx="272.0" cy="196.2" r="4.2"/><circle cx="273.6" cy="196.0" r="4.2"/><circle cx="275.3" cy="195.8" r="4.2"/><circle cx="276.9" cy="192.6" r="4.2"/><circle cx="278.6" cy="195.3" r="4.2"/><circle cx="280.2" cy="192.1" r="4.2"/><circle cx="281.8" cy="195.3" r="4.2"/><circle cx="283.5" cy="194.4" r="4.2"/><circle cx="285.1" cy="190.4" r="4.2"/><circle cx="286.8" cy="187.4" r="4.2"/><circle cx="288.4" cy="186.9" r="4.2"/><circle cx="290.1" cy="187.5" r="4.2"/><circle cx="291.7" cy="187.6" r="4.2"/><circle cx="293.4" cy="187.2" r="4.2"/><circle cx="295.0" cy="186.2" r="4.2"/><circle cx="296.6" cy="187.1" r="4.2"/><circle cx="298.3" cy="186.3" r="4.2"/><circle cx="299.9" cy="185.2" r="4.2"/><circle cx="301.6" cy="185.3" r="4.2"/><circle cx="303.2" cy="184.1" r="4.2"/><circle cx="304.9" cy="184.5" r="4.2"/><circle cx="306.5" cy="183.6" r="4.2"/><circle cx="308.2" cy="187.3" r="4.2"/><circle cx="309.8" cy="190.1" r="4.2"/><circle cx="311.4" cy="191.0" r="4.2"/><circle cx="313.1" cy="191.9" r="4.2"/><circle cx="314.7" cy="191.8" r="4.2"/><circle cx="316.4" cy="193.9" r="4.2"/><circle cx="318.0" cy="194.6" r="4.2"/><circle cx="319.7" cy="191.6" r="4.2"/><circle cx="321.3" cy="196.5" r="4.2"/><circle cx="323.0" cy="194.2" r="4.2"/><circle cx="324.6" cy="190.6" r="4.2"/><circle cx="326.2" cy="189.4" r="4.2"/><circle cx="327.9" cy="189.1" r="4.2"/><circle cx="329.5" cy="189.8" r="4.2"/><circle cx="331.2" cy="188.1" r="4.2"/><circle cx="332.8" cy="188.1" r="4.2"/><circle cx="334.5" cy="188.8" r="4.2"/><circle cx="336.1" cy="183.2" r="4.2"/><circle cx="337.8" cy="184.1" r="4.2"/><circle cx="339.4" cy="185.8" r="4.2"/><circle cx="341.0" cy="186.3" r="4.2"/><circle cx="342.7" cy="188.2" r="4.2"/><circle cx="344.3" cy="190.1" r="4.2"/><circle cx="346.0" cy="196.1" r="4.2"/><circle cx="347.6" cy="194.3" r="4.2"/><circle cx="349.3" cy="191.2" r="4.2"/><circle cx="350.9" cy="194.0" r="4.2"/><circle cx="352.6" cy="193.2" r="4.2"/><circle cx="354.2" cy="191.3" r="4.2"/><circle cx="355.8" cy="190.7" r="4.2"/><circle cx="357.5" cy="189.1" r="4.2"/><circle cx="359.1" cy="193.3" r="4.2"/><circle cx="360.8" cy="192.0" r="4.2"/><circle cx="362.4" cy="191.5" r="4.2"/><circle cx="364.1" cy="189.3" r="4.2"/><circle cx="365.7" cy="186.3" r="4.2"/><circle cx="367.4" cy="190.1" r="4.2"/><circle cx="369.0" cy="184.3" r="4.2"/><circle cx="370.6" cy="187.0" r="4.2"/><circle cx="372.3" cy="184.6" r="4.2"/><circle cx="373.9" cy="187.8" r="4.2"/><circle cx="375.6" cy="186.4" r="4.2"/><circle cx="377.2" cy="184.5" r="4.2"/><circle cx="378.9" cy="186.2" r="4.2"/><circle cx="380.5" cy="186.3" r="4.2"/><circle cx="382.2" cy="185.9" r="4.2"/><circle cx="383.8" cy="187.4" r="4.2"/><circle cx="385.4" cy="188.4" r="4.2"/><circle cx="387.1" cy="186.1" r="4.2"/><circle cx="388.7" cy="186.9" r="4.2"/><circle cx="390.4" cy="190.2" r="4.2"/><circle cx="392.0" cy="186.9" r="4.2"/><circle cx="393.7" cy="192.6" r="4.2"/><circle cx="395.3" cy="190.8" r="4.2"/><circle cx="397.0" cy="192.1" r="4.2"/><circle cx="398.6" cy="191.3" r="4.2"/><circle cx="400.2" cy="189.5" r="4.2"/><circle cx="401.9" cy="189.1" r="4.2"/><circle cx="403.5" cy="187.9" r="4.2"/><circle cx="405.2" cy="191.2" r="4.2"/><circle cx="406.8" cy="191.5" r="4.2"/><circle cx="408.5" cy="187.3" r="4.2"/><circle cx="410.1" cy="188.0" r="4.2"/><circle cx="411.8" cy="188.4" r="4.2"/><circle cx="413.4" cy="189.2" r="4.2"/><circle cx="415.0" cy="184.8" r="4.2"/><circle cx="416.7" cy="184.2" r="4.2"/><circle cx="418.3" cy="182.6" r="4.2"/><circle cx="420.0" cy="186.1" r="4.2"/><circle cx="421.6" cy="185.7" r="4.2"/><circle cx="423.3" cy="188.7" r="4.2"/><circle cx="424.9" cy="187.9" r="4.2"/><circle cx="426.6" cy="187.3" r="4.2"/><circle cx="428.2" cy="191.2" r="4.2"/><circle cx="429.8" cy="188.8" r="4.2"/><circle cx="431.5" cy="189.9" r="4.2"/><circle cx="433.1" cy="192.9" r="4.2"/><circle cx="434.8" cy="196.9" r="4.2"/><circle cx="436.4" cy="192.1" r="4.2"/><circle cx="438.1" cy="192.2" r="4.2"/><circle cx="439.7" cy="192.2" r="4.2"/><circle cx="441.4" cy="190.3" r="4.2"/><circle cx="443.0" cy="189.7" r="4.2"/><circle cx="444.6" cy="187.1" r="4.2"/><circle cx="446.3" cy="189.7" r="4.2"/><circle cx="447.9" cy="186.3" r="4.2"/><circle cx="449.6" cy="184.5" r="4.2"/><circle cx="451.2" cy="184.0" r="4.2"/><circle cx="452.9" cy="186.1" r="4.2"/><circle cx="454.5" cy="186.9" r="4.2"/><circle cx="456.2" cy="183.7" r="4.2"/><circle cx="457.8" cy="183.8" r="4.2"/><circle cx="459.4" cy="183.8" r="4.2"/><circle cx="461.1" cy="182.4" r="4.2"/><circle cx="462.7" cy="186.1" r="4.2"/><circle cx="464.4" cy="191.7" r="4.2"/><circle cx="466.0" cy="190.6" r="4.2"/><circle cx="467.7" cy="193.0" r="4.2"/><circle cx="469.3" cy="190.8" r="4.2"/><circle cx="471.0" cy="192.2" r="4.2"/><circle cx="472.6" cy="194.1" r="4.2"/><circle cx="474.2" cy="193.8" r="4.2"/><circle cx="475.9" cy="191.8" r="4.2"/><circle cx="477.5" cy="191.5" r="4.2"/><circle cx="479.2" cy="188.8" r="4.2"/><circle cx="480.8" cy="190.3" r="4.2"/><circle cx="482.5" cy="188.9" r="4.2"/><circle cx="484.1" cy="187.5" r="4.2"/><circle cx="485.8" cy="186.7" r="4.2"/><circle cx="487.4" cy="190.1" r="4.2"/><circle cx="489.0" cy="188.5" r="4.2"/><circle cx="490.7" cy="192.1" r="4.2"/><circle cx="492.3" cy="191.2" r="4.2"/><circle cx="494.0" cy="191.7" r="4.2"/><circle cx="495.6" cy="186.4" r="4.2"/><circle cx="497.3" cy="188.4" r="4.2"/><circle cx="498.9" cy="187.3" r="4.2"/><circle cx="500.6" cy="187.8" r="4.2"/><circle cx="502.2" cy="188.4" r="4.2"/><circle cx="503.8" cy="189.8" r="4.2"/><circle cx="505.5" cy="189.2" r="4.2"/><circle cx="507.1" cy="189.2" r="4.2"/><circle cx="508.8" cy="193.8" r="4.2"/><circle cx="510.4" cy="193.7" r="4.2"/><circle cx="512.1" cy="192.3" r="4.2"/><circle cx="513.7" cy="193.0" r="4.2"/><circle cx="515.4" cy="194.3" r="4.2"/><circle cx="517.0" cy="193.0" r="4.2"/><circle cx="518.6" cy="189.9" r="4.2"/><circle cx="520.3" cy="193.4" r="4.2"/><circle cx="521.9" cy="192.4" r="4.2"/><circle cx="523.6" cy="189.1" r="4.2"/><circle cx="525.2" cy="188.2" r="4.2"/><circle cx="526.9" cy="189.1" r="4.2"/><circle cx="528.5" cy="188.0" r="4.2"/><circle cx="530.2" cy="188.3" r="4.2"/><circle cx="531.8" cy="189.9" r="4.2"/><circle cx="533.4" cy="190.5" r="4.2"/><circle cx="535.1" cy="189.1" r="4.2"/><circle cx="536.7" cy="186.7" r="4.2"/><circle cx="538.4" cy="189.5" r="4.2"/><circle cx="540.0" cy="192.1" r="4.2"/><circle cx="541.7" cy="193.4" r="4.2"/><circle cx="543.3" cy="195.1" r="4.2"/><circle cx="545.0" cy="193.6" r="4.2"/><circle cx="546.6" cy="195.8" r="4.2"/><circle cx="548.2" cy="194.6" r="4.2"/><circle cx="549.9" cy="198.9" r="4.2"/><circle cx="551.5" cy="195.4" r="4.2"/><circle cx="553.2" cy="195.9" r="4.2"/><circle cx="554.8" cy="197.8" r="4.2"/><circle cx="556.5" cy="193.5" r="4.2"/><circle cx="558.1" cy="193.3" r="4.2"/><circle cx="559.8" cy="196.1" r="4.2"/><circle cx="561.4" cy="194.7" r="4.2"/><circle cx="563.0" cy="192.1" r="4.2"/><circle cx="564.7" cy="191.7" r="4.2"/><circle cx="566.3" cy="188.6" r="4.2"/><circle cx="568.0" cy="187.0" r="4.2"/><circle cx="569.6" cy="186.5" r="4.2"/><circle cx="571.3" cy="186.9" r="4.2"/><circle cx="572.9" cy="185.1" r="4.2"/><circle cx="574.6" cy="185.2" r="4.2"/><circle cx="576.2" cy="185.4" r="4.2"/><circle cx="577.9" cy="189.5" r="4.2"/><circle cx="579.5" cy="186.2" r="4.2"/><circle cx="581.1" cy="185.0" r="4.2"/><circle cx="582.8" cy="187.7" r="4.2"/><circle cx="584.4" cy="188.8" r="4.2"/><circle cx="586.1" cy="185.9" r="4.2"/><circle cx="587.7" cy="192.3" r="4.2"/><circle cx="589.4" cy="191.9" r="4.2"/><circle cx="591.0" cy="189.5" r="4.2"/><circle cx="592.7" cy="194.7" r="4.2"/><circle cx="594.3" cy="193.3" r="4.2"/><circle cx="595.9" cy="190.5" r="4.2"/><circle cx="597.6" cy="192.5" r="4.2"/><circle cx="599.2" cy="191.6" r="4.2"/><circle cx="600.9" cy="190.6" r="4.2"/><circle cx="602.5" cy="193.2" r="4.2"/><circle cx="604.2" cy="192.2" r="4.2"/><circle cx="605.8" cy="190.7" r="4.2"/><circle cx="607.5" cy="188.8" r="4.2"/><circle cx="609.1" cy="189.3" r="4.2"/><circle cx="610.7" cy="189.7" r="4.2"/><circle cx="612.4" cy="191.1" r="4.2"/><circle cx="614.0" cy="190.1" r="4.2"/><circle cx="615.7" cy="187.4" r="4.2"/><circle cx="617.3" cy="187.6" r="4.2"/><circle cx="619.0" cy="189.0" r="4.2"/><circle cx="620.6" cy="189.5" r="4.2"/><circle cx="622.3" cy="184.0" r="4.2"/><circle cx="623.9" cy="185.2" r="4.2"/><circle cx="625.5" cy="186.7" r="4.2"/><circle cx="627.2" cy="192.5" r="4.2"/><circle cx="628.8" cy="189.0" r="4.2"/><circle cx="630.5" cy="188.7" r="4.2"/><circle cx="632.1" cy="187.6" r="4.2"/><circle cx="633.8" cy="190.2" r="4.2"/><circle cx="635.4" cy="192.7" r="4.2"/><circle cx="637.1" cy="192.9" r="4.2"/><circle cx="638.7" cy="197.0" r="4.2"/><circle cx="640.3" cy="193.0" r="4.2"/><circle cx="642.0" cy="192.3" r="4.2"/><circle cx="643.6" cy="193.0" r="4.2"/><circle cx="645.3" cy="189.2" r="4.2"/><circle cx="646.9" cy="186.8" r="4.2"/><circle cx="648.6" cy="191.3" r="4.2"/><circle cx="650.2" cy="191.3" r="4.2"/><circle cx="651.9" cy="188.9" r="4.2"/><circle cx="653.5" cy="187.5" r="4.2"/><circle cx="655.1" cy="187.3" r="4.2"/><circle cx="656.8" cy="188.0" r="4.2"/><circle cx="658.4" cy="183.0" r="4.2"/><circle cx="660.1" cy="182.5" r="4.2"/><circle cx="661.7" cy="185.0" r="4.2"/><circle cx="663.4" cy="185.3" r="4.2"/><circle cx="665.0" cy="180.1" r="4.2"/></g>
</g>
<rect x="150" y="314.5" width="495" height="28" fill="#fff"/>
<text transform="translate(203.50 337.60) scale(1 1.015)" text-anchor="end">Idle</text>
<line x1="220.2" y1="328.5" x2="266.2" y2="328.5" stroke="#8b0000" stroke-width="1.3"/>
<circle cx="243.2" cy="328.5" r="4.2" fill="#8b0000"/>
<text transform="translate(386.20 337.60) scale(1 1.015)" text-anchor="end">2.4GHz</text>
<line x1="403.5" y1="328.4" x2="448.9" y2="328.4" stroke="#1a3b67" stroke-width="1.3"/>
<path fill="none" stroke="#1a3b67" stroke-width="1.2" d="M422.1 328.3h8.0M426.1 324.3v8.0M422.1 324.3l8.0 8.0M422.1 332.3l8.0 -8.0"/>
<text transform="translate(569.20 337.60) scale(1 1.015)" text-anchor="end">3.0GHz</text>
<line x1="586.4" y1="328.6" x2="631.6" y2="328.6" stroke="#000" stroke-width="1.3"/>
<rect x="605.3" y="324.6" width="8" height="8" fill="none" stroke="#000" stroke-width="1.15"/>
<rect x="84.5" y="9.9" width="580.6" height="344.0" fill="none" stroke="#000" stroke-width="2.3"/>
<text transform="translate(67.60 364.00) scale(1 1.015)" text-anchor="end">0</text>
<text transform="translate(67.60 295.20) scale(1 1.015)" text-anchor="end">20</text>
<text transform="translate(67.60 226.40) scale(1 1.015)" text-anchor="end">40</text>
<text transform="translate(67.60 157.60) scale(1 1.015)" text-anchor="end">60</text>
<text transform="translate(67.60 88.80) scale(1 1.015)" text-anchor="end">80</text>
<text transform="translate(67.60 20.00) scale(1 1.015)" text-anchor="end">100</text>
<text transform="translate(88.00 392.80) scale(1 1.015)" text-anchor="middle">0</text>
<text transform="translate(170.23 392.80) scale(1 1.015)" text-anchor="middle">50</text>
<text transform="translate(252.45 392.80) scale(1 1.015)" text-anchor="middle">100</text>
<text transform="translate(334.68 392.80) scale(1 1.015)" text-anchor="middle">150</text>
<text transform="translate(416.90 392.80) scale(1 1.015)" text-anchor="middle">200</text>
<text transform="translate(499.12 392.80) scale(1 1.015)" text-anchor="middle">250</text>
<text transform="translate(581.35 392.80) scale(1 1.015)" text-anchor="middle">300</text>
<text transform="translate(663.58 392.80) scale(1 1.015)" text-anchor="middle">350</text>
<text transform="translate(374.80 420.70) scale(1 1.015)" text-anchor="middle">Execution time (x 10 seconds)</text>
<text transform="translate(20.90 182.40) rotate(-90) scale(1 1.015)" text-anchor="middle">CPU Temperature (centigrade)</text>
</svg></body></html>
